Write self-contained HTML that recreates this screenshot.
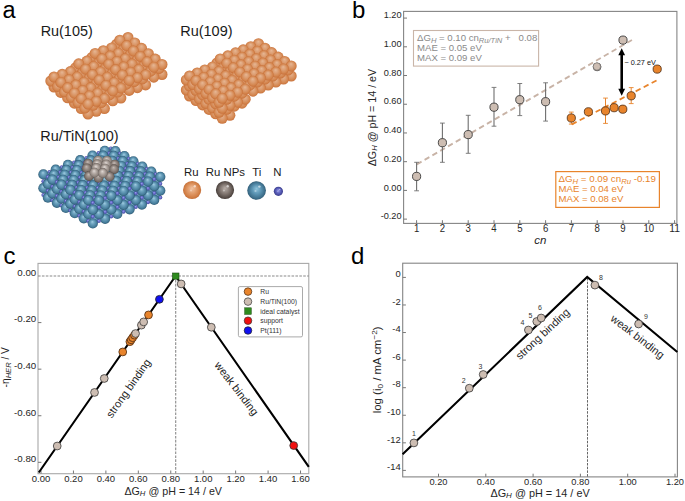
<!DOCTYPE html>
<html><head><meta charset="utf-8"><style>
html,body{margin:0;padding:0;background:#fff;}
svg{display:block;font-family:"Liberation Sans", sans-serif;}
</style></head><body>
<svg width="685" height="501" viewBox="0 0 685 501">
<defs>
<radialGradient id="gRu" cx="0.5" cy="0.5" r="0.5" fx="0.48" fy="0.3">
<stop offset="0" stop-color="#e6b794"/><stop offset="0.4" stop-color="#dd9f74"/><stop offset="0.8" stop-color="#d4864f"/><stop offset="1" stop-color="#c8713b"/>
</radialGradient>
<radialGradient id="gTi" cx="0.5" cy="0.5" r="0.5" fx="0.45" fy="0.32">
<stop offset="0" stop-color="#a2cde2"/><stop offset="0.35" stop-color="#6ea4c0"/><stop offset="0.8" stop-color="#467d9b"/><stop offset="1" stop-color="#2f5a74"/>
</radialGradient>
<radialGradient id="gN" cx="0.5" cy="0.5" r="0.5" fx="0.45" fy="0.35">
<stop offset="0" stop-color="#9ea4ee"/><stop offset="0.5" stop-color="#6a6fcc"/><stop offset="1" stop-color="#454aa0"/>
</radialGradient>
<radialGradient id="gNP" cx="0.5" cy="0.5" r="0.5" fx="0.45" fy="0.32">
<stop offset="0" stop-color="#e0d9d5"/><stop offset="0.4" stop-color="#b7ada7"/><stop offset="0.85" stop-color="#8b817b"/><stop offset="1" stop-color="#6c625d"/>
</radialGradient>
<radialGradient id="gNP2" cx="0.5" cy="0.5" r="0.5" fx="0.45" fy="0.32">
<stop offset="0" stop-color="#c4bab5"/><stop offset="0.4" stop-color="#9c918b"/><stop offset="0.85" stop-color="#746963"/><stop offset="1" stop-color="#564c47"/>
</radialGradient>
<radialGradient id="lRu" cx="0.5" cy="0.5" r="0.5" fx="0.5" fy="0.4">
<stop offset="0" stop-color="#f0c2a2"/><stop offset="0.5" stop-color="#e09a68"/><stop offset="0.9" stop-color="#cf7a40"/><stop offset="1" stop-color="#c06a35"/>
</radialGradient>
<radialGradient id="lNP" cx="0.5" cy="0.5" r="0.5" fx="0.5" fy="0.4">
<stop offset="0" stop-color="#b8aea8"/><stop offset="0.5" stop-color="#857a74"/><stop offset="0.9" stop-color="#554b46"/><stop offset="1" stop-color="#3e3531"/>
</radialGradient>
<radialGradient id="lTi" cx="0.5" cy="0.5" r="0.5" fx="0.5" fy="0.4">
<stop offset="0" stop-color="#8ec3dc"/><stop offset="0.5" stop-color="#5a93b2"/><stop offset="0.9" stop-color="#3b6c88"/><stop offset="1" stop-color="#2c5670"/>
</radialGradient>
<radialGradient id="lN" cx="0.5" cy="0.5" r="0.5" fx="0.5" fy="0.4">
<stop offset="0" stop-color="#9ca0e8"/><stop offset="0.5" stop-color="#5f63bf"/><stop offset="1" stop-color="#3a3d8c"/>
</radialGradient>
</defs><rect width="685" height="501" fill="#fff"/>
<text x="2.50" y="17.80" font-size="23.5" text-anchor="start" fill="#000" >a</text>
<text x="352.00" y="18.20" font-size="24" text-anchor="start" fill="#000" >b</text>
<text x="3.50" y="264.00" font-size="24" text-anchor="start" fill="#000" >c</text>
<text x="351.00" y="263.80" font-size="24" text-anchor="start" fill="#000" >d</text>
<circle cx="128.0" cy="47.5" r="5.5" fill="url(#gRu)"/>
<circle cx="124.8" cy="41.5" r="5.5" fill="url(#gRu)"/>
<circle cx="119.8" cy="50.2" r="5.5" fill="url(#gRu)"/>
<circle cx="128.0" cy="37.5" r="5.5" fill="url(#gRu)"/>
<circle cx="111.6" cy="57.9" r="5.5" fill="url(#gRu)"/>
<circle cx="116.6" cy="44.2" r="5.5" fill="url(#gRu)"/>
<circle cx="134.8" cy="52.9" r="5.5" fill="url(#gRu)"/>
<circle cx="108.4" cy="51.9" r="5.5" fill="url(#gRu)"/>
<circle cx="119.8" cy="40.2" r="5.5" fill="url(#gRu)"/>
<circle cx="103.3" cy="60.7" r="5.5" fill="url(#gRu)"/>
<circle cx="131.6" cy="46.9" r="5.5" fill="url(#gRu)"/>
<circle cx="111.6" cy="47.9" r="5.5" fill="url(#gRu)"/>
<circle cx="126.6" cy="55.6" r="5.5" fill="url(#gRu)"/>
<circle cx="100.1" cy="54.7" r="5.5" fill="url(#gRu)"/>
<circle cx="134.8" cy="42.9" r="5.5" fill="url(#gRu)"/>
<circle cx="118.4" cy="63.3" r="5.5" fill="url(#gRu)"/>
<circle cx="95.1" cy="63.4" r="5.5" fill="url(#gRu)"/>
<circle cx="123.4" cy="49.6" r="5.5" fill="url(#gRu)"/>
<circle cx="103.3" cy="50.7" r="5.5" fill="url(#gRu)"/>
<circle cx="141.6" cy="58.3" r="5.5" fill="url(#gRu)"/>
<circle cx="86.9" cy="71.1" r="5.5" fill="url(#gRu)"/>
<circle cx="115.2" cy="57.3" r="5.5" fill="url(#gRu)"/>
<circle cx="91.9" cy="57.4" r="5.5" fill="url(#gRu)"/>
<circle cx="126.6" cy="45.6" r="5.5" fill="url(#gRu)"/>
<circle cx="110.1" cy="66.1" r="5.5" fill="url(#gRu)"/>
<circle cx="138.4" cy="52.3" r="5.5" fill="url(#gRu)"/>
<circle cx="83.7" cy="65.1" r="5.5" fill="url(#gRu)"/>
<circle cx="118.4" cy="53.3" r="5.5" fill="url(#gRu)"/>
<circle cx="95.1" cy="53.4" r="5.5" fill="url(#gRu)"/>
<circle cx="133.4" cy="61.0" r="5.5" fill="url(#gRu)"/>
<circle cx="78.7" cy="73.8" r="5.5" fill="url(#gRu)"/>
<circle cx="106.9" cy="60.1" r="5.5" fill="url(#gRu)"/>
<circle cx="141.6" cy="48.3" r="5.5" fill="url(#gRu)"/>
<circle cx="86.9" cy="61.1" r="5.5" fill="url(#gRu)"/>
<circle cx="125.2" cy="68.7" r="5.5" fill="url(#gRu)"/>
<circle cx="70.4" cy="81.6" r="5.5" fill="url(#gRu)"/>
<circle cx="101.9" cy="68.8" r="5.5" fill="url(#gRu)"/>
<circle cx="130.2" cy="55.0" r="5.5" fill="url(#gRu)"/>
<circle cx="75.5" cy="67.8" r="5.5" fill="url(#gRu)"/>
<circle cx="110.1" cy="56.1" r="5.5" fill="url(#gRu)"/>
<circle cx="148.4" cy="63.7" r="5.5" fill="url(#gRu)"/>
<circle cx="93.7" cy="76.5" r="5.5" fill="url(#gRu)"/>
<circle cx="122.0" cy="62.7" r="5.5" fill="url(#gRu)"/>
<circle cx="67.2" cy="75.6" r="5.5" fill="url(#gRu)"/>
<circle cx="98.7" cy="62.8" r="5.5" fill="url(#gRu)"/>
<circle cx="133.4" cy="51.0" r="5.5" fill="url(#gRu)"/>
<circle cx="78.7" cy="63.8" r="5.5" fill="url(#gRu)"/>
<circle cx="116.9" cy="71.5" r="5.5" fill="url(#gRu)"/>
<circle cx="62.2" cy="84.3" r="5.5" fill="url(#gRu)"/>
<circle cx="145.2" cy="57.7" r="5.5" fill="url(#gRu)"/>
<circle cx="90.5" cy="70.5" r="5.5" fill="url(#gRu)"/>
<circle cx="125.2" cy="58.7" r="5.5" fill="url(#gRu)"/>
<circle cx="70.4" cy="71.6" r="5.5" fill="url(#gRu)"/>
<circle cx="101.9" cy="58.8" r="5.5" fill="url(#gRu)"/>
<circle cx="140.2" cy="66.4" r="5.5" fill="url(#gRu)"/>
<circle cx="85.5" cy="79.2" r="5.5" fill="url(#gRu)"/>
<circle cx="113.7" cy="65.5" r="5.5" fill="url(#gRu)"/>
<circle cx="59.0" cy="78.3" r="5.5" fill="url(#gRu)"/>
<circle cx="148.4" cy="53.7" r="5.5" fill="url(#gRu)"/>
<circle cx="93.7" cy="66.5" r="5.5" fill="url(#gRu)"/>
<circle cx="132.0" cy="74.1" r="5.5" fill="url(#gRu)"/>
<circle cx="77.2" cy="87.0" r="5.5" fill="url(#gRu)"/>
<circle cx="108.7" cy="74.2" r="5.5" fill="url(#gRu)"/>
<circle cx="54.0" cy="87.0" r="5.5" fill="url(#gRu)"/>
<circle cx="137.0" cy="60.4" r="5.5" fill="url(#gRu)"/>
<circle cx="82.3" cy="73.2" r="5.5" fill="url(#gRu)"/>
<circle cx="116.9" cy="61.5" r="5.5" fill="url(#gRu)"/>
<circle cx="155.2" cy="69.1" r="5.5" fill="url(#gRu)"/>
<circle cx="62.2" cy="74.3" r="5.5" fill="url(#gRu)"/>
<circle cx="100.5" cy="81.9" r="5.5" fill="url(#gRu)"/>
<circle cx="128.8" cy="68.1" r="5.5" fill="url(#gRu)"/>
<circle cx="74.0" cy="81.0" r="5.5" fill="url(#gRu)"/>
<circle cx="105.5" cy="68.2" r="5.5" fill="url(#gRu)"/>
<circle cx="50.8" cy="81.0" r="5.5" fill="url(#gRu)"/>
<circle cx="140.2" cy="56.4" r="5.5" fill="url(#gRu)"/>
<circle cx="85.5" cy="69.2" r="5.5" fill="url(#gRu)"/>
<circle cx="123.7" cy="76.9" r="5.5" fill="url(#gRu)"/>
<circle cx="69.0" cy="89.7" r="5.5" fill="url(#gRu)"/>
<circle cx="152.0" cy="63.1" r="5.5" fill="url(#gRu)"/>
<circle cx="97.3" cy="75.9" r="5.5" fill="url(#gRu)"/>
<circle cx="132.0" cy="64.1" r="5.5" fill="url(#gRu)"/>
<circle cx="77.2" cy="77.0" r="5.5" fill="url(#gRu)"/>
<circle cx="108.7" cy="64.2" r="5.5" fill="url(#gRu)"/>
<circle cx="147.0" cy="71.8" r="5.5" fill="url(#gRu)"/>
<circle cx="54.0" cy="77.0" r="5.5" fill="url(#gRu)"/>
<circle cx="92.3" cy="84.6" r="5.5" fill="url(#gRu)"/>
<circle cx="120.5" cy="70.9" r="5.5" fill="url(#gRu)"/>
<circle cx="65.8" cy="83.7" r="5.5" fill="url(#gRu)"/>
<circle cx="155.2" cy="59.1" r="5.5" fill="url(#gRu)"/>
<circle cx="100.5" cy="71.9" r="5.5" fill="url(#gRu)"/>
<circle cx="138.8" cy="79.5" r="5.5" fill="url(#gRu)"/>
<circle cx="84.0" cy="92.4" r="5.5" fill="url(#gRu)"/>
<circle cx="115.5" cy="79.6" r="5.5" fill="url(#gRu)"/>
<circle cx="60.8" cy="92.4" r="5.5" fill="url(#gRu)"/>
<circle cx="143.8" cy="65.8" r="5.5" fill="url(#gRu)"/>
<circle cx="89.1" cy="78.6" r="5.5" fill="url(#gRu)"/>
<circle cx="123.7" cy="66.9" r="5.5" fill="url(#gRu)"/>
<circle cx="162.0" cy="74.5" r="5.5" fill="url(#gRu)"/>
<circle cx="69.0" cy="79.7" r="5.5" fill="url(#gRu)"/>
<circle cx="107.3" cy="87.3" r="5.5" fill="url(#gRu)"/>
<circle cx="135.6" cy="73.5" r="5.5" fill="url(#gRu)"/>
<circle cx="80.8" cy="86.4" r="5.5" fill="url(#gRu)"/>
<circle cx="112.3" cy="73.6" r="5.5" fill="url(#gRu)"/>
<circle cx="57.6" cy="86.4" r="5.5" fill="url(#gRu)"/>
<circle cx="147.0" cy="61.8" r="5.5" fill="url(#gRu)"/>
<circle cx="92.3" cy="74.6" r="5.5" fill="url(#gRu)"/>
<circle cx="130.5" cy="82.3" r="5.5" fill="url(#gRu)"/>
<circle cx="75.8" cy="95.1" r="5.5" fill="url(#gRu)"/>
<circle cx="158.8" cy="68.5" r="5.5" fill="url(#gRu)"/>
<circle cx="104.1" cy="81.3" r="5.5" fill="url(#gRu)"/>
<circle cx="138.8" cy="69.5" r="5.5" fill="url(#gRu)"/>
<circle cx="84.0" cy="82.4" r="5.5" fill="url(#gRu)"/>
<circle cx="115.5" cy="69.6" r="5.5" fill="url(#gRu)"/>
<circle cx="153.8" cy="77.2" r="5.5" fill="url(#gRu)"/>
<circle cx="60.8" cy="82.4" r="5.5" fill="url(#gRu)"/>
<circle cx="99.1" cy="90.0" r="5.5" fill="url(#gRu)"/>
<circle cx="127.3" cy="76.3" r="5.5" fill="url(#gRu)"/>
<circle cx="72.6" cy="89.1" r="5.5" fill="url(#gRu)"/>
<circle cx="162.0" cy="64.5" r="5.5" fill="url(#gRu)"/>
<circle cx="107.3" cy="77.3" r="5.5" fill="url(#gRu)"/>
<circle cx="145.6" cy="84.9" r="5.5" fill="url(#gRu)"/>
<circle cx="90.8" cy="97.8" r="5.5" fill="url(#gRu)"/>
<circle cx="122.3" cy="85.0" r="5.5" fill="url(#gRu)"/>
<circle cx="67.6" cy="97.8" r="5.5" fill="url(#gRu)"/>
<circle cx="150.6" cy="71.2" r="5.5" fill="url(#gRu)"/>
<circle cx="95.9" cy="84.0" r="5.5" fill="url(#gRu)"/>
<circle cx="130.5" cy="72.3" r="5.5" fill="url(#gRu)"/>
<circle cx="75.8" cy="85.1" r="5.5" fill="url(#gRu)"/>
<circle cx="114.1" cy="92.7" r="5.5" fill="url(#gRu)"/>
<circle cx="142.4" cy="78.9" r="5.5" fill="url(#gRu)"/>
<circle cx="87.6" cy="91.8" r="5.5" fill="url(#gRu)"/>
<circle cx="119.1" cy="79.0" r="5.5" fill="url(#gRu)"/>
<circle cx="64.4" cy="91.8" r="5.5" fill="url(#gRu)"/>
<circle cx="153.8" cy="67.2" r="5.5" fill="url(#gRu)"/>
<circle cx="99.1" cy="80.0" r="5.5" fill="url(#gRu)"/>
<circle cx="137.3" cy="87.7" r="5.5" fill="url(#gRu)"/>
<circle cx="82.6" cy="100.5" r="5.5" fill="url(#gRu)"/>
<circle cx="110.9" cy="86.7" r="5.5" fill="url(#gRu)"/>
<circle cx="145.6" cy="74.9" r="5.5" fill="url(#gRu)"/>
<circle cx="90.8" cy="87.8" r="5.5" fill="url(#gRu)"/>
<circle cx="122.3" cy="75.0" r="5.5" fill="url(#gRu)"/>
<circle cx="67.6" cy="87.8" r="5.5" fill="url(#gRu)"/>
<circle cx="105.9" cy="95.4" r="5.5" fill="url(#gRu)"/>
<circle cx="134.1" cy="81.7" r="5.5" fill="url(#gRu)"/>
<circle cx="79.4" cy="94.5" r="5.5" fill="url(#gRu)"/>
<circle cx="114.1" cy="82.7" r="5.5" fill="url(#gRu)"/>
<circle cx="97.6" cy="103.2" r="5.5" fill="url(#gRu)"/>
<circle cx="129.1" cy="90.4" r="5.5" fill="url(#gRu)"/>
<circle cx="74.4" cy="103.2" r="5.5" fill="url(#gRu)"/>
<circle cx="102.7" cy="89.4" r="5.5" fill="url(#gRu)"/>
<circle cx="137.3" cy="77.7" r="5.5" fill="url(#gRu)"/>
<circle cx="82.6" cy="90.5" r="5.5" fill="url(#gRu)"/>
<circle cx="120.9" cy="98.1" r="5.5" fill="url(#gRu)"/>
<circle cx="94.4" cy="97.2" r="5.5" fill="url(#gRu)"/>
<circle cx="125.9" cy="84.4" r="5.5" fill="url(#gRu)"/>
<circle cx="71.2" cy="97.2" r="5.5" fill="url(#gRu)"/>
<circle cx="105.9" cy="85.4" r="5.5" fill="url(#gRu)"/>
<circle cx="89.4" cy="105.9" r="5.5" fill="url(#gRu)"/>
<circle cx="117.7" cy="92.1" r="5.5" fill="url(#gRu)"/>
<circle cx="97.6" cy="93.2" r="5.5" fill="url(#gRu)"/>
<circle cx="129.1" cy="80.4" r="5.5" fill="url(#gRu)"/>
<circle cx="74.4" cy="93.2" r="5.5" fill="url(#gRu)"/>
<circle cx="112.7" cy="100.8" r="5.5" fill="url(#gRu)"/>
<circle cx="86.2" cy="99.9" r="5.5" fill="url(#gRu)"/>
<circle cx="120.9" cy="88.1" r="5.5" fill="url(#gRu)"/>
<circle cx="104.4" cy="108.6" r="5.5" fill="url(#gRu)"/>
<circle cx="81.2" cy="108.6" r="5.5" fill="url(#gRu)"/>
<circle cx="109.5" cy="94.8" r="5.5" fill="url(#gRu)"/>
<circle cx="89.4" cy="95.9" r="5.5" fill="url(#gRu)"/>
<circle cx="101.2" cy="102.6" r="5.5" fill="url(#gRu)"/>
<circle cx="78.0" cy="102.6" r="5.5" fill="url(#gRu)"/>
<circle cx="112.7" cy="90.8" r="5.5" fill="url(#gRu)"/>
<circle cx="96.2" cy="111.3" r="5.5" fill="url(#gRu)"/>
<circle cx="104.4" cy="98.6" r="5.5" fill="url(#gRu)"/>
<circle cx="81.2" cy="98.6" r="5.5" fill="url(#gRu)"/>
<circle cx="93.0" cy="105.3" r="5.5" fill="url(#gRu)"/>
<circle cx="88.0" cy="114.0" r="5.5" fill="url(#gRu)"/>
<circle cx="96.2" cy="101.3" r="5.5" fill="url(#gRu)"/>
<circle cx="84.8" cy="108.0" r="5.5" fill="url(#gRu)"/>
<circle cx="88.0" cy="104.0" r="5.5" fill="url(#gRu)"/>
<circle cx="258.5" cy="53.7" r="5.5" fill="url(#gRu)"/>
<circle cx="255.3" cy="47.7" r="5.5" fill="url(#gRu)"/>
<circle cx="250.8" cy="56.7" r="5.5" fill="url(#gRu)"/>
<circle cx="258.5" cy="43.7" r="5.5" fill="url(#gRu)"/>
<circle cx="247.6" cy="50.7" r="5.5" fill="url(#gRu)"/>
<circle cx="265.0" cy="58.2" r="5.5" fill="url(#gRu)"/>
<circle cx="243.2" cy="59.8" r="5.5" fill="url(#gRu)"/>
<circle cx="250.8" cy="46.7" r="5.5" fill="url(#gRu)"/>
<circle cx="261.8" cy="52.2" r="5.5" fill="url(#gRu)"/>
<circle cx="240.0" cy="53.8" r="5.5" fill="url(#gRu)"/>
<circle cx="257.4" cy="61.2" r="5.5" fill="url(#gRu)"/>
<circle cx="235.5" cy="62.8" r="5.5" fill="url(#gRu)"/>
<circle cx="265.0" cy="48.2" r="5.5" fill="url(#gRu)"/>
<circle cx="243.2" cy="49.8" r="5.5" fill="url(#gRu)"/>
<circle cx="254.2" cy="55.2" r="5.5" fill="url(#gRu)"/>
<circle cx="232.3" cy="56.8" r="5.5" fill="url(#gRu)"/>
<circle cx="271.6" cy="62.6" r="5.5" fill="url(#gRu)"/>
<circle cx="249.7" cy="64.2" r="5.5" fill="url(#gRu)"/>
<circle cx="227.8" cy="65.8" r="5.5" fill="url(#gRu)"/>
<circle cx="257.4" cy="51.2" r="5.5" fill="url(#gRu)"/>
<circle cx="235.5" cy="52.8" r="5.5" fill="url(#gRu)"/>
<circle cx="268.4" cy="56.6" r="5.5" fill="url(#gRu)"/>
<circle cx="246.5" cy="58.2" r="5.5" fill="url(#gRu)"/>
<circle cx="224.6" cy="59.8" r="5.5" fill="url(#gRu)"/>
<circle cx="263.9" cy="65.7" r="5.5" fill="url(#gRu)"/>
<circle cx="209.3" cy="80.9" r="5.5" fill="url(#gRu)"/>
<circle cx="242.0" cy="67.3" r="5.5" fill="url(#gRu)"/>
<circle cx="271.6" cy="52.6" r="5.5" fill="url(#gRu)"/>
<circle cx="220.2" cy="68.9" r="5.5" fill="url(#gRu)"/>
<circle cx="249.7" cy="54.2" r="5.5" fill="url(#gRu)"/>
<circle cx="227.8" cy="55.8" r="5.5" fill="url(#gRu)"/>
<circle cx="260.7" cy="59.7" r="5.5" fill="url(#gRu)"/>
<circle cx="212.5" cy="76.9" r="5.5" fill="url(#gRu)"/>
<circle cx="238.8" cy="61.3" r="5.5" fill="url(#gRu)"/>
<circle cx="278.1" cy="67.1" r="5.5" fill="url(#gRu)"/>
<circle cx="217.0" cy="62.9" r="5.5" fill="url(#gRu)"/>
<circle cx="256.2" cy="68.7" r="5.5" fill="url(#gRu)"/>
<circle cx="201.6" cy="83.9" r="5.5" fill="url(#gRu)"/>
<circle cx="234.4" cy="70.3" r="5.5" fill="url(#gRu)"/>
<circle cx="263.9" cy="55.7" r="5.5" fill="url(#gRu)"/>
<circle cx="209.3" cy="70.9" r="5.5" fill="url(#gRu)"/>
<circle cx="197.2" cy="93.0" r="5.5" fill="url(#gRu)"/>
<circle cx="242.0" cy="57.3" r="5.5" fill="url(#gRu)"/>
<circle cx="274.9" cy="61.1" r="5.5" fill="url(#gRu)"/>
<circle cx="220.2" cy="58.9" r="5.5" fill="url(#gRu)"/>
<circle cx="253.0" cy="62.7" r="5.5" fill="url(#gRu)"/>
<circle cx="204.8" cy="79.9" r="5.5" fill="url(#gRu)"/>
<circle cx="231.2" cy="64.3" r="5.5" fill="url(#gRu)"/>
<circle cx="270.5" cy="70.1" r="5.5" fill="url(#gRu)"/>
<circle cx="215.8" cy="85.4" r="5.5" fill="url(#gRu)"/>
<circle cx="212.5" cy="66.9" r="5.5" fill="url(#gRu)"/>
<circle cx="248.6" cy="71.7" r="5.5" fill="url(#gRu)"/>
<circle cx="194.0" cy="87.0" r="5.5" fill="url(#gRu)"/>
<circle cx="278.1" cy="57.1" r="5.5" fill="url(#gRu)"/>
<circle cx="226.7" cy="73.3" r="5.5" fill="url(#gRu)"/>
<circle cx="256.2" cy="58.7" r="5.5" fill="url(#gRu)"/>
<circle cx="201.6" cy="73.9" r="5.5" fill="url(#gRu)"/>
<circle cx="189.5" cy="96.0" r="5.5" fill="url(#gRu)"/>
<circle cx="234.4" cy="60.3" r="5.5" fill="url(#gRu)"/>
<circle cx="267.3" cy="64.1" r="5.5" fill="url(#gRu)"/>
<circle cx="219.0" cy="81.4" r="5.5" fill="url(#gRu)"/>
<circle cx="245.4" cy="65.7" r="5.5" fill="url(#gRu)"/>
<circle cx="284.7" cy="71.5" r="5.5" fill="url(#gRu)"/>
<circle cx="197.2" cy="83.0" r="5.5" fill="url(#gRu)"/>
<circle cx="223.5" cy="67.3" r="5.5" fill="url(#gRu)"/>
<circle cx="262.8" cy="73.1" r="5.5" fill="url(#gRu)"/>
<circle cx="208.2" cy="88.4" r="5.5" fill="url(#gRu)"/>
<circle cx="204.8" cy="69.9" r="5.5" fill="url(#gRu)"/>
<circle cx="240.9" cy="74.8" r="5.5" fill="url(#gRu)"/>
<circle cx="186.3" cy="90.0" r="5.5" fill="url(#gRu)"/>
<circle cx="270.5" cy="60.1" r="5.5" fill="url(#gRu)"/>
<circle cx="215.8" cy="75.4" r="5.5" fill="url(#gRu)"/>
<circle cx="203.7" cy="97.4" r="5.5" fill="url(#gRu)"/>
<circle cx="248.6" cy="61.7" r="5.5" fill="url(#gRu)"/>
<circle cx="281.5" cy="65.5" r="5.5" fill="url(#gRu)"/>
<circle cx="194.0" cy="77.0" r="5.5" fill="url(#gRu)"/>
<circle cx="226.7" cy="63.3" r="5.5" fill="url(#gRu)"/>
<circle cx="259.6" cy="67.1" r="5.5" fill="url(#gRu)"/>
<circle cx="211.4" cy="84.4" r="5.5" fill="url(#gRu)"/>
<circle cx="237.7" cy="68.8" r="5.5" fill="url(#gRu)"/>
<circle cx="277.0" cy="74.6" r="5.5" fill="url(#gRu)"/>
<circle cx="189.5" cy="86.0" r="5.5" fill="url(#gRu)"/>
<circle cx="222.4" cy="89.8" r="5.5" fill="url(#gRu)"/>
<circle cx="219.0" cy="71.4" r="5.5" fill="url(#gRu)"/>
<circle cx="255.1" cy="76.2" r="5.5" fill="url(#gRu)"/>
<circle cx="200.5" cy="91.4" r="5.5" fill="url(#gRu)"/>
<circle cx="284.7" cy="61.5" r="5.5" fill="url(#gRu)"/>
<circle cx="197.2" cy="73.0" r="5.5" fill="url(#gRu)"/>
<circle cx="233.2" cy="77.8" r="5.5" fill="url(#gRu)"/>
<circle cx="262.8" cy="63.1" r="5.5" fill="url(#gRu)"/>
<circle cx="208.2" cy="78.4" r="5.5" fill="url(#gRu)"/>
<circle cx="196.0" cy="100.5" r="5.5" fill="url(#gRu)"/>
<circle cx="240.9" cy="64.8" r="5.5" fill="url(#gRu)"/>
<circle cx="273.8" cy="68.6" r="5.5" fill="url(#gRu)"/>
<circle cx="186.3" cy="80.0" r="5.5" fill="url(#gRu)"/>
<circle cx="225.6" cy="85.8" r="5.5" fill="url(#gRu)"/>
<circle cx="251.9" cy="70.2" r="5.5" fill="url(#gRu)"/>
<circle cx="291.2" cy="76.0" r="5.5" fill="url(#gRu)"/>
<circle cx="203.7" cy="87.4" r="5.5" fill="url(#gRu)"/>
<circle cx="230.0" cy="71.8" r="5.5" fill="url(#gRu)"/>
<circle cx="269.3" cy="77.6" r="5.5" fill="url(#gRu)"/>
<circle cx="214.7" cy="92.9" r="5.5" fill="url(#gRu)"/>
<circle cx="211.4" cy="74.4" r="5.5" fill="url(#gRu)"/>
<circle cx="247.5" cy="79.2" r="5.5" fill="url(#gRu)"/>
<circle cx="192.8" cy="94.5" r="5.5" fill="url(#gRu)"/>
<circle cx="277.0" cy="64.6" r="5.5" fill="url(#gRu)"/>
<circle cx="189.5" cy="76.0" r="5.5" fill="url(#gRu)"/>
<circle cx="222.4" cy="79.8" r="5.5" fill="url(#gRu)"/>
<circle cx="210.2" cy="101.9" r="5.5" fill="url(#gRu)"/>
<circle cx="255.1" cy="66.2" r="5.5" fill="url(#gRu)"/>
<circle cx="288.0" cy="70.0" r="5.5" fill="url(#gRu)"/>
<circle cx="200.5" cy="81.4" r="5.5" fill="url(#gRu)"/>
<circle cx="233.2" cy="67.8" r="5.5" fill="url(#gRu)"/>
<circle cx="266.1" cy="71.6" r="5.5" fill="url(#gRu)"/>
<circle cx="217.9" cy="88.9" r="5.5" fill="url(#gRu)"/>
<circle cx="244.3" cy="73.2" r="5.5" fill="url(#gRu)"/>
<circle cx="283.5" cy="79.0" r="5.5" fill="url(#gRu)"/>
<circle cx="196.0" cy="90.5" r="5.5" fill="url(#gRu)"/>
<circle cx="228.9" cy="94.3" r="5.5" fill="url(#gRu)"/>
<circle cx="225.6" cy="75.8" r="5.5" fill="url(#gRu)"/>
<circle cx="261.7" cy="80.6" r="5.5" fill="url(#gRu)"/>
<circle cx="207.0" cy="95.9" r="5.5" fill="url(#gRu)"/>
<circle cx="291.2" cy="66.0" r="5.5" fill="url(#gRu)"/>
<circle cx="203.7" cy="77.4" r="5.5" fill="url(#gRu)"/>
<circle cx="239.8" cy="82.2" r="5.5" fill="url(#gRu)"/>
<circle cx="269.3" cy="67.6" r="5.5" fill="url(#gRu)"/>
<circle cx="214.7" cy="82.9" r="5.5" fill="url(#gRu)"/>
<circle cx="202.6" cy="104.9" r="5.5" fill="url(#gRu)"/>
<circle cx="247.5" cy="69.2" r="5.5" fill="url(#gRu)"/>
<circle cx="280.3" cy="73.0" r="5.5" fill="url(#gRu)"/>
<circle cx="192.8" cy="84.5" r="5.5" fill="url(#gRu)"/>
<circle cx="232.1" cy="90.3" r="5.5" fill="url(#gRu)"/>
<circle cx="258.5" cy="74.6" r="5.5" fill="url(#gRu)"/>
<circle cx="210.2" cy="91.9" r="5.5" fill="url(#gRu)"/>
<circle cx="236.6" cy="76.2" r="5.5" fill="url(#gRu)"/>
<circle cx="275.9" cy="82.1" r="5.5" fill="url(#gRu)"/>
<circle cx="221.3" cy="97.3" r="5.5" fill="url(#gRu)"/>
<circle cx="217.9" cy="78.9" r="5.5" fill="url(#gRu)"/>
<circle cx="254.0" cy="83.7" r="5.5" fill="url(#gRu)"/>
<circle cx="199.4" cy="98.9" r="5.5" fill="url(#gRu)"/>
<circle cx="283.5" cy="69.0" r="5.5" fill="url(#gRu)"/>
<circle cx="196.0" cy="80.5" r="5.5" fill="url(#gRu)"/>
<circle cx="228.9" cy="84.3" r="5.5" fill="url(#gRu)"/>
<circle cx="216.8" cy="106.3" r="5.5" fill="url(#gRu)"/>
<circle cx="261.7" cy="70.6" r="5.5" fill="url(#gRu)"/>
<circle cx="207.0" cy="85.9" r="5.5" fill="url(#gRu)"/>
<circle cx="239.8" cy="72.2" r="5.5" fill="url(#gRu)"/>
<circle cx="272.7" cy="76.1" r="5.5" fill="url(#gRu)"/>
<circle cx="224.5" cy="93.3" r="5.5" fill="url(#gRu)"/>
<circle cx="250.8" cy="77.7" r="5.5" fill="url(#gRu)"/>
<circle cx="202.6" cy="94.9" r="5.5" fill="url(#gRu)"/>
<circle cx="235.5" cy="98.7" r="5.5" fill="url(#gRu)"/>
<circle cx="232.1" cy="80.3" r="5.5" fill="url(#gRu)"/>
<circle cx="268.2" cy="85.1" r="5.5" fill="url(#gRu)"/>
<circle cx="213.6" cy="100.3" r="5.5" fill="url(#gRu)"/>
<circle cx="210.2" cy="81.9" r="5.5" fill="url(#gRu)"/>
<circle cx="246.3" cy="86.7" r="5.5" fill="url(#gRu)"/>
<circle cx="275.9" cy="72.1" r="5.5" fill="url(#gRu)"/>
<circle cx="221.3" cy="87.3" r="5.5" fill="url(#gRu)"/>
<circle cx="209.1" cy="109.4" r="5.5" fill="url(#gRu)"/>
<circle cx="254.0" cy="73.7" r="5.5" fill="url(#gRu)"/>
<circle cx="199.4" cy="88.9" r="5.5" fill="url(#gRu)"/>
<circle cx="238.7" cy="94.7" r="5.5" fill="url(#gRu)"/>
<circle cx="265.0" cy="79.1" r="5.5" fill="url(#gRu)"/>
<circle cx="216.8" cy="96.3" r="5.5" fill="url(#gRu)"/>
<circle cx="243.1" cy="80.7" r="5.5" fill="url(#gRu)"/>
<circle cx="227.8" cy="101.8" r="5.5" fill="url(#gRu)"/>
<circle cx="224.5" cy="83.3" r="5.5" fill="url(#gRu)"/>
<circle cx="260.5" cy="88.1" r="5.5" fill="url(#gRu)"/>
<circle cx="205.9" cy="103.4" r="5.5" fill="url(#gRu)"/>
<circle cx="202.6" cy="84.9" r="5.5" fill="url(#gRu)"/>
<circle cx="235.5" cy="88.7" r="5.5" fill="url(#gRu)"/>
<circle cx="223.3" cy="110.8" r="5.5" fill="url(#gRu)"/>
<circle cx="268.2" cy="75.1" r="5.5" fill="url(#gRu)"/>
<circle cx="213.6" cy="90.3" r="5.5" fill="url(#gRu)"/>
<circle cx="246.3" cy="76.7" r="5.5" fill="url(#gRu)"/>
<circle cx="231.0" cy="97.8" r="5.5" fill="url(#gRu)"/>
<circle cx="257.3" cy="82.1" r="5.5" fill="url(#gRu)"/>
<circle cx="209.1" cy="99.4" r="5.5" fill="url(#gRu)"/>
<circle cx="242.0" cy="103.2" r="5.5" fill="url(#gRu)"/>
<circle cx="238.7" cy="84.7" r="5.5" fill="url(#gRu)"/>
<circle cx="220.1" cy="104.8" r="5.5" fill="url(#gRu)"/>
<circle cx="216.8" cy="86.3" r="5.5" fill="url(#gRu)"/>
<circle cx="252.9" cy="91.2" r="5.5" fill="url(#gRu)"/>
<circle cx="227.8" cy="91.8" r="5.5" fill="url(#gRu)"/>
<circle cx="215.7" cy="113.8" r="5.5" fill="url(#gRu)"/>
<circle cx="260.5" cy="78.1" r="5.5" fill="url(#gRu)"/>
<circle cx="205.9" cy="93.4" r="5.5" fill="url(#gRu)"/>
<circle cx="245.2" cy="99.2" r="5.5" fill="url(#gRu)"/>
<circle cx="223.3" cy="100.8" r="5.5" fill="url(#gRu)"/>
<circle cx="249.7" cy="85.2" r="5.5" fill="url(#gRu)"/>
<circle cx="234.3" cy="106.2" r="5.5" fill="url(#gRu)"/>
<circle cx="231.0" cy="87.8" r="5.5" fill="url(#gRu)"/>
<circle cx="212.5" cy="107.8" r="5.5" fill="url(#gRu)"/>
<circle cx="209.1" cy="89.4" r="5.5" fill="url(#gRu)"/>
<circle cx="242.0" cy="93.2" r="5.5" fill="url(#gRu)"/>
<circle cx="229.9" cy="115.3" r="5.5" fill="url(#gRu)"/>
<circle cx="220.1" cy="94.8" r="5.5" fill="url(#gRu)"/>
<circle cx="252.9" cy="81.2" r="5.5" fill="url(#gRu)"/>
<circle cx="237.5" cy="102.2" r="5.5" fill="url(#gRu)"/>
<circle cx="215.7" cy="103.8" r="5.5" fill="url(#gRu)"/>
<circle cx="245.2" cy="89.2" r="5.5" fill="url(#gRu)"/>
<circle cx="226.7" cy="109.3" r="5.5" fill="url(#gRu)"/>
<circle cx="223.3" cy="90.8" r="5.5" fill="url(#gRu)"/>
<circle cx="234.3" cy="96.2" r="5.5" fill="url(#gRu)"/>
<circle cx="222.2" cy="118.3" r="5.5" fill="url(#gRu)"/>
<circle cx="212.5" cy="97.8" r="5.5" fill="url(#gRu)"/>
<circle cx="229.9" cy="105.3" r="5.5" fill="url(#gRu)"/>
<circle cx="237.5" cy="92.2" r="5.5" fill="url(#gRu)"/>
<circle cx="219.0" cy="112.3" r="5.5" fill="url(#gRu)"/>
<circle cx="215.7" cy="93.8" r="5.5" fill="url(#gRu)"/>
<circle cx="226.7" cy="99.3" r="5.5" fill="url(#gRu)"/>
<circle cx="222.2" cy="108.3" r="5.5" fill="url(#gRu)"/>
<circle cx="229.9" cy="95.3" r="5.5" fill="url(#gRu)"/>
<circle cx="219.0" cy="102.3" r="5.5" fill="url(#gRu)"/>
<circle cx="222.2" cy="98.3" r="5.5" fill="url(#gRu)"/>
<circle cx="110.9" cy="155.3" r="5.1" fill="url(#gTi)"/>
<circle cx="110.9" cy="148.4" r="2.0" fill="url(#gN)"/>
<circle cx="104.8" cy="157.7" r="2.0" fill="url(#gN)"/>
<circle cx="115.4" cy="157.9" r="2.0" fill="url(#gN)"/>
<circle cx="104.8" cy="150.8" r="5.1" fill="url(#gTi)"/>
<circle cx="98.6" cy="160.0" r="5.1" fill="url(#gTi)"/>
<circle cx="115.4" cy="151.0" r="5.1" fill="url(#gTi)"/>
<circle cx="109.3" cy="160.2" r="5.1" fill="url(#gTi)"/>
<circle cx="119.9" cy="160.5" r="5.1" fill="url(#gTi)"/>
<circle cx="98.6" cy="153.1" r="2.0" fill="url(#gN)"/>
<circle cx="92.5" cy="162.4" r="2.0" fill="url(#gN)"/>
<circle cx="109.3" cy="153.3" r="2.0" fill="url(#gN)"/>
<circle cx="103.1" cy="162.6" r="2.0" fill="url(#gN)"/>
<circle cx="119.9" cy="153.6" r="2.0" fill="url(#gN)"/>
<circle cx="113.7" cy="162.8" r="2.0" fill="url(#gN)"/>
<circle cx="124.4" cy="163.0" r="2.0" fill="url(#gN)"/>
<circle cx="92.5" cy="155.5" r="5.1" fill="url(#gTi)"/>
<circle cx="86.4" cy="164.8" r="5.1" fill="url(#gTi)"/>
<circle cx="103.1" cy="155.7" r="5.1" fill="url(#gTi)"/>
<circle cx="97.0" cy="165.0" r="5.1" fill="url(#gTi)"/>
<circle cx="113.7" cy="155.9" r="5.1" fill="url(#gTi)"/>
<circle cx="107.6" cy="165.2" r="5.1" fill="url(#gTi)"/>
<circle cx="124.4" cy="156.1" r="5.1" fill="url(#gTi)"/>
<circle cx="118.2" cy="165.4" r="5.1" fill="url(#gTi)"/>
<circle cx="86.4" cy="157.9" r="2.0" fill="url(#gN)"/>
<circle cx="128.9" cy="165.6" r="5.1" fill="url(#gTi)"/>
<circle cx="80.2" cy="167.1" r="2.0" fill="url(#gN)"/>
<circle cx="97.0" cy="158.1" r="2.0" fill="url(#gN)"/>
<circle cx="90.8" cy="167.3" r="2.0" fill="url(#gN)"/>
<circle cx="107.6" cy="158.3" r="2.0" fill="url(#gN)"/>
<circle cx="101.5" cy="167.6" r="2.0" fill="url(#gN)"/>
<circle cx="118.2" cy="158.5" r="2.0" fill="url(#gN)"/>
<circle cx="112.1" cy="167.8" r="2.0" fill="url(#gN)"/>
<circle cx="128.9" cy="158.7" r="2.0" fill="url(#gN)"/>
<circle cx="80.2" cy="160.2" r="5.1" fill="url(#gTi)"/>
<circle cx="122.7" cy="168.0" r="2.0" fill="url(#gN)"/>
<circle cx="74.1" cy="169.5" r="5.1" fill="url(#gTi)"/>
<circle cx="90.8" cy="160.4" r="5.1" fill="url(#gTi)"/>
<circle cx="133.4" cy="168.2" r="2.0" fill="url(#gN)"/>
<circle cx="84.7" cy="169.7" r="5.1" fill="url(#gTi)"/>
<circle cx="101.5" cy="160.7" r="5.1" fill="url(#gTi)"/>
<circle cx="95.3" cy="169.9" r="5.1" fill="url(#gTi)"/>
<circle cx="112.1" cy="160.9" r="5.1" fill="url(#gTi)"/>
<circle cx="106.0" cy="170.1" r="5.1" fill="url(#gTi)"/>
<circle cx="122.7" cy="161.1" r="5.1" fill="url(#gTi)"/>
<circle cx="74.1" cy="162.6" r="2.0" fill="url(#gN)"/>
<circle cx="116.6" cy="170.4" r="5.1" fill="url(#gTi)"/>
<circle cx="133.4" cy="161.3" r="5.1" fill="url(#gTi)"/>
<circle cx="67.9" cy="171.8" r="2.0" fill="url(#gN)"/>
<circle cx="84.7" cy="162.8" r="2.0" fill="url(#gN)"/>
<circle cx="127.2" cy="170.6" r="5.1" fill="url(#gTi)"/>
<circle cx="78.6" cy="172.1" r="2.0" fill="url(#gN)"/>
<circle cx="95.3" cy="163.0" r="2.0" fill="url(#gN)"/>
<circle cx="137.8" cy="170.8" r="5.1" fill="url(#gTi)"/>
<circle cx="89.2" cy="172.3" r="2.0" fill="url(#gN)"/>
<circle cx="106.0" cy="163.2" r="2.0" fill="url(#gN)"/>
<circle cx="99.8" cy="172.5" r="2.0" fill="url(#gN)"/>
<circle cx="116.6" cy="163.5" r="2.0" fill="url(#gN)"/>
<circle cx="67.9" cy="164.9" r="5.1" fill="url(#gTi)"/>
<circle cx="110.5" cy="172.7" r="2.0" fill="url(#gN)"/>
<circle cx="127.2" cy="163.7" r="2.0" fill="url(#gN)"/>
<circle cx="61.8" cy="174.2" r="5.1" fill="url(#gTi)"/>
<circle cx="78.6" cy="165.2" r="5.1" fill="url(#gTi)"/>
<circle cx="121.1" cy="172.9" r="2.0" fill="url(#gN)"/>
<circle cx="137.8" cy="163.9" r="2.0" fill="url(#gN)"/>
<circle cx="72.4" cy="174.4" r="5.1" fill="url(#gTi)"/>
<circle cx="89.2" cy="165.4" r="5.1" fill="url(#gTi)"/>
<circle cx="49.5" cy="192.7" r="5.1" fill="url(#gTi)"/>
<circle cx="131.7" cy="173.2" r="2.0" fill="url(#gN)"/>
<circle cx="83.1" cy="174.6" r="5.1" fill="url(#gTi)"/>
<circle cx="99.8" cy="165.6" r="5.1" fill="url(#gTi)"/>
<circle cx="142.3" cy="173.4" r="2.0" fill="url(#gN)"/>
<circle cx="93.7" cy="174.9" r="5.1" fill="url(#gTi)"/>
<circle cx="110.5" cy="165.8" r="5.1" fill="url(#gTi)"/>
<circle cx="61.8" cy="167.3" r="2.0" fill="url(#gN)"/>
<circle cx="104.3" cy="175.1" r="5.1" fill="url(#gTi)"/>
<circle cx="121.1" cy="166.0" r="5.1" fill="url(#gTi)"/>
<circle cx="55.7" cy="176.6" r="2.0" fill="url(#gN)"/>
<circle cx="72.4" cy="167.5" r="2.0" fill="url(#gN)"/>
<circle cx="114.9" cy="175.3" r="5.1" fill="url(#gTi)"/>
<circle cx="49.5" cy="185.8" r="2.0" fill="url(#gN)"/>
<circle cx="131.7" cy="166.3" r="5.1" fill="url(#gTi)"/>
<circle cx="66.3" cy="176.8" r="2.0" fill="url(#gN)"/>
<circle cx="83.1" cy="167.7" r="2.0" fill="url(#gN)"/>
<circle cx="43.4" cy="195.1" r="2.0" fill="url(#gN)"/>
<circle cx="125.6" cy="175.5" r="5.1" fill="url(#gTi)"/>
<circle cx="142.3" cy="166.5" r="5.1" fill="url(#gTi)"/>
<circle cx="76.9" cy="177.0" r="2.0" fill="url(#gN)"/>
<circle cx="93.7" cy="168.0" r="2.0" fill="url(#gN)"/>
<circle cx="54.0" cy="195.3" r="2.0" fill="url(#gN)"/>
<circle cx="136.2" cy="175.7" r="5.1" fill="url(#gTi)"/>
<circle cx="87.6" cy="177.2" r="2.0" fill="url(#gN)"/>
<circle cx="104.3" cy="168.2" r="2.0" fill="url(#gN)"/>
<circle cx="146.8" cy="176.0" r="5.1" fill="url(#gTi)"/>
<circle cx="55.7" cy="169.7" r="5.1" fill="url(#gTi)"/>
<circle cx="98.2" cy="177.4" r="2.0" fill="url(#gN)"/>
<circle cx="114.9" cy="168.4" r="2.0" fill="url(#gN)"/>
<circle cx="49.5" cy="178.9" r="5.1" fill="url(#gTi)"/>
<circle cx="66.3" cy="169.9" r="5.1" fill="url(#gTi)"/>
<circle cx="108.8" cy="177.7" r="2.0" fill="url(#gN)"/>
<circle cx="43.4" cy="188.2" r="5.1" fill="url(#gTi)"/>
<circle cx="125.6" cy="168.6" r="2.0" fill="url(#gN)"/>
<circle cx="60.2" cy="179.2" r="5.1" fill="url(#gTi)"/>
<circle cx="76.9" cy="170.1" r="5.1" fill="url(#gTi)"/>
<circle cx="119.4" cy="177.9" r="2.0" fill="url(#gN)"/>
<circle cx="54.0" cy="188.4" r="5.1" fill="url(#gTi)"/>
<circle cx="136.2" cy="168.8" r="2.0" fill="url(#gN)"/>
<circle cx="70.8" cy="179.4" r="5.1" fill="url(#gTi)"/>
<circle cx="87.6" cy="170.3" r="5.1" fill="url(#gTi)"/>
<circle cx="47.9" cy="197.7" r="5.1" fill="url(#gTi)"/>
<circle cx="155.8" cy="194.9" r="5.1" fill="url(#gTi)"/>
<circle cx="130.1" cy="178.1" r="2.0" fill="url(#gN)"/>
<circle cx="146.8" cy="169.1" r="2.0" fill="url(#gN)"/>
<circle cx="81.4" cy="179.6" r="5.1" fill="url(#gTi)"/>
<circle cx="98.2" cy="170.5" r="5.1" fill="url(#gTi)"/>
<circle cx="58.5" cy="197.9" r="5.1" fill="url(#gTi)"/>
<circle cx="140.7" cy="178.3" r="2.0" fill="url(#gN)"/>
<circle cx="49.5" cy="172.0" r="2.0" fill="url(#gN)"/>
<circle cx="92.0" cy="179.8" r="5.1" fill="url(#gTi)"/>
<circle cx="108.8" cy="170.8" r="5.1" fill="url(#gTi)"/>
<circle cx="43.4" cy="181.3" r="2.0" fill="url(#gN)"/>
<circle cx="151.3" cy="178.5" r="2.0" fill="url(#gN)"/>
<circle cx="60.2" cy="172.3" r="2.0" fill="url(#gN)"/>
<circle cx="102.7" cy="180.0" r="5.1" fill="url(#gTi)"/>
<circle cx="119.4" cy="171.0" r="5.1" fill="url(#gTi)"/>
<circle cx="54.0" cy="181.5" r="2.0" fill="url(#gN)"/>
<circle cx="70.8" cy="172.5" r="2.0" fill="url(#gN)"/>
<circle cx="113.3" cy="180.2" r="5.1" fill="url(#gTi)"/>
<circle cx="47.9" cy="190.8" r="2.0" fill="url(#gN)"/>
<circle cx="155.8" cy="188.0" r="2.0" fill="url(#gN)"/>
<circle cx="130.1" cy="171.2" r="5.1" fill="url(#gTi)"/>
<circle cx="64.7" cy="181.7" r="2.0" fill="url(#gN)"/>
<circle cx="81.4" cy="172.7" r="2.0" fill="url(#gN)"/>
<circle cx="149.7" cy="197.3" r="2.0" fill="url(#gN)"/>
<circle cx="123.9" cy="180.5" r="5.1" fill="url(#gTi)"/>
<circle cx="58.5" cy="191.0" r="2.0" fill="url(#gN)"/>
<circle cx="140.7" cy="171.4" r="5.1" fill="url(#gTi)"/>
<circle cx="75.3" cy="182.0" r="2.0" fill="url(#gN)"/>
<circle cx="92.0" cy="172.9" r="2.0" fill="url(#gN)"/>
<circle cx="52.4" cy="200.3" r="2.0" fill="url(#gN)"/>
<circle cx="160.3" cy="197.5" r="2.0" fill="url(#gN)"/>
<circle cx="134.6" cy="180.7" r="5.1" fill="url(#gTi)"/>
<circle cx="43.4" cy="174.4" r="5.1" fill="url(#gTi)"/>
<circle cx="151.3" cy="171.6" r="5.1" fill="url(#gTi)"/>
<circle cx="85.9" cy="182.2" r="2.0" fill="url(#gN)"/>
<circle cx="102.7" cy="173.1" r="2.0" fill="url(#gN)"/>
<circle cx="63.0" cy="200.5" r="2.0" fill="url(#gN)"/>
<circle cx="145.2" cy="180.9" r="5.1" fill="url(#gTi)"/>
<circle cx="54.0" cy="174.6" r="5.1" fill="url(#gTi)"/>
<circle cx="96.5" cy="182.4" r="2.0" fill="url(#gN)"/>
<circle cx="113.3" cy="173.3" r="2.0" fill="url(#gN)"/>
<circle cx="47.9" cy="183.9" r="5.1" fill="url(#gTi)"/>
<circle cx="155.8" cy="181.1" r="5.1" fill="url(#gTi)"/>
<circle cx="64.7" cy="174.8" r="5.1" fill="url(#gTi)"/>
<circle cx="107.2" cy="182.6" r="2.0" fill="url(#gN)"/>
<circle cx="149.7" cy="190.4" r="5.1" fill="url(#gTi)"/>
<circle cx="123.9" cy="173.6" r="2.0" fill="url(#gN)"/>
<circle cx="58.5" cy="184.1" r="5.1" fill="url(#gTi)"/>
<circle cx="75.3" cy="175.1" r="5.1" fill="url(#gTi)"/>
<circle cx="143.5" cy="199.6" r="5.1" fill="url(#gTi)"/>
<circle cx="117.8" cy="182.8" r="2.0" fill="url(#gN)"/>
<circle cx="52.4" cy="193.4" r="5.1" fill="url(#gTi)"/>
<circle cx="160.3" cy="190.6" r="5.1" fill="url(#gTi)"/>
<circle cx="134.6" cy="173.8" r="2.0" fill="url(#gN)"/>
<circle cx="69.1" cy="184.3" r="5.1" fill="url(#gTi)"/>
<circle cx="85.9" cy="175.3" r="5.1" fill="url(#gTi)"/>
<circle cx="154.2" cy="199.9" r="5.1" fill="url(#gTi)"/>
<circle cx="128.4" cy="183.0" r="2.0" fill="url(#gN)"/>
<circle cx="63.0" cy="193.6" r="5.1" fill="url(#gTi)"/>
<circle cx="145.2" cy="174.0" r="2.0" fill="url(#gN)"/>
<circle cx="79.8" cy="184.5" r="5.1" fill="url(#gTi)"/>
<circle cx="96.5" cy="175.5" r="5.1" fill="url(#gTi)"/>
<circle cx="56.9" cy="202.8" r="5.1" fill="url(#gTi)"/>
<circle cx="139.0" cy="183.3" r="2.0" fill="url(#gN)"/>
<circle cx="47.9" cy="177.0" r="2.0" fill="url(#gN)"/>
<circle cx="155.8" cy="174.2" r="2.0" fill="url(#gN)"/>
<circle cx="90.4" cy="184.8" r="5.1" fill="url(#gTi)"/>
<circle cx="107.2" cy="175.7" r="5.1" fill="url(#gTi)"/>
<circle cx="67.5" cy="203.1" r="5.1" fill="url(#gTi)"/>
<circle cx="149.7" cy="183.5" r="2.0" fill="url(#gN)"/>
<circle cx="58.5" cy="177.2" r="2.0" fill="url(#gN)"/>
<circle cx="101.0" cy="185.0" r="5.1" fill="url(#gTi)"/>
<circle cx="143.5" cy="192.7" r="2.0" fill="url(#gN)"/>
<circle cx="117.8" cy="175.9" r="5.1" fill="url(#gTi)"/>
<circle cx="52.4" cy="186.5" r="2.0" fill="url(#gN)"/>
<circle cx="160.3" cy="183.7" r="2.0" fill="url(#gN)"/>
<circle cx="69.1" cy="177.4" r="2.0" fill="url(#gN)"/>
<circle cx="137.4" cy="202.0" r="2.0" fill="url(#gN)"/>
<circle cx="111.7" cy="185.2" r="5.1" fill="url(#gTi)"/>
<circle cx="154.2" cy="193.0" r="2.0" fill="url(#gN)"/>
<circle cx="128.4" cy="176.1" r="5.1" fill="url(#gTi)"/>
<circle cx="63.0" cy="186.7" r="2.0" fill="url(#gN)"/>
<circle cx="79.8" cy="177.6" r="2.0" fill="url(#gN)"/>
<circle cx="148.0" cy="202.2" r="2.0" fill="url(#gN)"/>
<circle cx="122.3" cy="185.4" r="5.1" fill="url(#gTi)"/>
<circle cx="56.9" cy="195.9" r="2.0" fill="url(#gN)"/>
<circle cx="139.0" cy="176.4" r="5.1" fill="url(#gTi)"/>
<circle cx="73.6" cy="186.9" r="2.0" fill="url(#gN)"/>
<circle cx="90.4" cy="177.9" r="2.0" fill="url(#gN)"/>
<circle cx="132.9" cy="185.6" r="5.1" fill="url(#gTi)"/>
<circle cx="67.5" cy="196.2" r="2.0" fill="url(#gN)"/>
<circle cx="149.7" cy="176.6" r="5.1" fill="url(#gTi)"/>
<circle cx="84.3" cy="187.1" r="2.0" fill="url(#gN)"/>
<circle cx="101.0" cy="178.1" r="2.0" fill="url(#gN)"/>
<circle cx="61.4" cy="205.4" r="2.0" fill="url(#gN)"/>
<circle cx="143.5" cy="185.8" r="5.1" fill="url(#gTi)"/>
<circle cx="52.4" cy="179.6" r="5.1" fill="url(#gTi)"/>
<circle cx="160.3" cy="176.8" r="5.1" fill="url(#gTi)"/>
<circle cx="94.9" cy="187.3" r="2.0" fill="url(#gN)"/>
<circle cx="137.4" cy="195.1" r="5.1" fill="url(#gTi)"/>
<circle cx="111.7" cy="178.3" r="2.0" fill="url(#gN)"/>
<circle cx="72.0" cy="205.6" r="2.0" fill="url(#gN)"/>
<circle cx="154.2" cy="186.1" r="5.1" fill="url(#gTi)"/>
<circle cx="63.0" cy="179.8" r="5.1" fill="url(#gTi)"/>
<circle cx="131.3" cy="204.4" r="5.1" fill="url(#gTi)"/>
<circle cx="105.5" cy="187.6" r="2.0" fill="url(#gN)"/>
<circle cx="148.0" cy="195.3" r="5.1" fill="url(#gTi)"/>
<circle cx="122.3" cy="178.5" r="2.0" fill="url(#gN)"/>
<circle cx="56.9" cy="189.0" r="5.1" fill="url(#gTi)"/>
<circle cx="73.6" cy="180.0" r="5.1" fill="url(#gTi)"/>
<circle cx="141.9" cy="204.6" r="5.1" fill="url(#gTi)"/>
<circle cx="116.1" cy="187.8" r="2.0" fill="url(#gN)"/>
<circle cx="132.9" cy="178.7" r="2.0" fill="url(#gN)"/>
<circle cx="67.5" cy="189.3" r="5.1" fill="url(#gTi)"/>
<circle cx="84.3" cy="180.2" r="5.1" fill="url(#gTi)"/>
<circle cx="126.8" cy="188.0" r="2.0" fill="url(#gN)"/>
<circle cx="61.4" cy="198.5" r="5.1" fill="url(#gTi)"/>
<circle cx="143.5" cy="178.9" r="2.0" fill="url(#gN)"/>
<circle cx="78.1" cy="189.5" r="5.1" fill="url(#gTi)"/>
<circle cx="94.9" cy="180.4" r="5.1" fill="url(#gTi)"/>
<circle cx="137.4" cy="188.2" r="2.0" fill="url(#gN)"/>
<circle cx="72.0" cy="198.7" r="5.1" fill="url(#gTi)"/>
<circle cx="154.2" cy="179.2" r="2.0" fill="url(#gN)"/>
<circle cx="88.8" cy="189.7" r="5.1" fill="url(#gTi)"/>
<circle cx="131.3" cy="197.5" r="2.0" fill="url(#gN)"/>
<circle cx="105.5" cy="180.7" r="5.1" fill="url(#gTi)"/>
<circle cx="65.9" cy="208.0" r="5.1" fill="url(#gTi)"/>
<circle cx="148.0" cy="188.4" r="2.0" fill="url(#gN)"/>
<circle cx="56.9" cy="182.1" r="2.0" fill="url(#gN)"/>
<circle cx="125.1" cy="206.7" r="2.0" fill="url(#gN)"/>
<circle cx="99.4" cy="189.9" r="5.1" fill="url(#gTi)"/>
<circle cx="141.9" cy="197.7" r="2.0" fill="url(#gN)"/>
<circle cx="116.1" cy="180.9" r="5.1" fill="url(#gTi)"/>
<circle cx="76.5" cy="208.2" r="5.1" fill="url(#gTi)"/>
<circle cx="67.5" cy="182.4" r="2.0" fill="url(#gN)"/>
<circle cx="135.8" cy="207.0" r="2.0" fill="url(#gN)"/>
<circle cx="110.0" cy="190.1" r="5.1" fill="url(#gTi)"/>
<circle cx="126.8" cy="181.1" r="5.1" fill="url(#gTi)"/>
<circle cx="61.4" cy="191.6" r="2.0" fill="url(#gN)"/>
<circle cx="78.1" cy="182.6" r="2.0" fill="url(#gN)"/>
<circle cx="120.6" cy="190.4" r="5.1" fill="url(#gTi)"/>
<circle cx="137.4" cy="181.3" r="5.1" fill="url(#gTi)"/>
<circle cx="72.0" cy="191.8" r="2.0" fill="url(#gN)"/>
<circle cx="88.8" cy="182.8" r="2.0" fill="url(#gN)"/>
<circle cx="131.3" cy="190.6" r="5.1" fill="url(#gTi)"/>
<circle cx="65.9" cy="201.1" r="2.0" fill="url(#gN)"/>
<circle cx="148.0" cy="181.5" r="5.1" fill="url(#gTi)"/>
<circle cx="82.6" cy="192.1" r="2.0" fill="url(#gN)"/>
<circle cx="125.1" cy="199.8" r="5.1" fill="url(#gTi)"/>
<circle cx="99.4" cy="183.0" r="2.0" fill="url(#gN)"/>
<circle cx="141.9" cy="190.8" r="5.1" fill="url(#gTi)"/>
<circle cx="76.5" cy="201.3" r="2.0" fill="url(#gN)"/>
<circle cx="119.0" cy="209.1" r="5.1" fill="url(#gTi)"/>
<circle cx="93.2" cy="192.3" r="2.0" fill="url(#gN)"/>
<circle cx="135.8" cy="200.1" r="5.1" fill="url(#gTi)"/>
<circle cx="110.0" cy="183.2" r="2.0" fill="url(#gN)"/>
<circle cx="70.3" cy="210.6" r="2.0" fill="url(#gN)"/>
<circle cx="61.4" cy="184.7" r="5.1" fill="url(#gTi)"/>
<circle cx="129.6" cy="209.3" r="5.1" fill="url(#gTi)"/>
<circle cx="103.9" cy="192.5" r="2.0" fill="url(#gN)"/>
<circle cx="120.6" cy="183.5" r="2.0" fill="url(#gN)"/>
<circle cx="81.0" cy="210.8" r="2.0" fill="url(#gN)"/>
<circle cx="72.0" cy="184.9" r="5.1" fill="url(#gTi)"/>
<circle cx="114.5" cy="192.7" r="2.0" fill="url(#gN)"/>
<circle cx="131.3" cy="183.7" r="2.0" fill="url(#gN)"/>
<circle cx="65.9" cy="194.2" r="5.1" fill="url(#gTi)"/>
<circle cx="82.6" cy="185.2" r="5.1" fill="url(#gTi)"/>
<circle cx="125.1" cy="192.9" r="2.0" fill="url(#gN)"/>
<circle cx="141.9" cy="183.9" r="2.0" fill="url(#gN)"/>
<circle cx="76.5" cy="194.4" r="5.1" fill="url(#gTi)"/>
<circle cx="119.0" cy="202.2" r="2.0" fill="url(#gN)"/>
<circle cx="93.2" cy="185.4" r="5.1" fill="url(#gTi)"/>
<circle cx="135.8" cy="193.2" r="2.0" fill="url(#gN)"/>
<circle cx="70.3" cy="203.7" r="5.1" fill="url(#gTi)"/>
<circle cx="112.9" cy="211.5" r="2.0" fill="url(#gN)"/>
<circle cx="87.1" cy="194.6" r="5.1" fill="url(#gTi)"/>
<circle cx="129.6" cy="202.4" r="2.0" fill="url(#gN)"/>
<circle cx="103.9" cy="185.6" r="5.1" fill="url(#gTi)"/>
<circle cx="81.0" cy="203.9" r="5.1" fill="url(#gTi)"/>
<circle cx="123.5" cy="211.7" r="2.0" fill="url(#gN)"/>
<circle cx="97.7" cy="194.9" r="5.1" fill="url(#gTi)"/>
<circle cx="114.5" cy="185.8" r="5.1" fill="url(#gTi)"/>
<circle cx="74.8" cy="213.2" r="5.1" fill="url(#gTi)"/>
<circle cx="65.9" cy="187.3" r="2.0" fill="url(#gN)"/>
<circle cx="108.4" cy="195.1" r="5.1" fill="url(#gTi)"/>
<circle cx="125.1" cy="186.0" r="5.1" fill="url(#gTi)"/>
<circle cx="85.5" cy="213.4" r="5.1" fill="url(#gTi)"/>
<circle cx="76.5" cy="187.5" r="2.0" fill="url(#gN)"/>
<circle cx="119.0" cy="195.3" r="5.1" fill="url(#gTi)"/>
<circle cx="135.8" cy="186.3" r="5.1" fill="url(#gTi)"/>
<circle cx="70.3" cy="196.8" r="2.0" fill="url(#gN)"/>
<circle cx="112.9" cy="204.6" r="5.1" fill="url(#gTi)"/>
<circle cx="87.1" cy="187.7" r="2.0" fill="url(#gN)"/>
<circle cx="129.6" cy="195.5" r="5.1" fill="url(#gTi)"/>
<circle cx="106.7" cy="213.8" r="5.1" fill="url(#gTi)"/>
<circle cx="81.0" cy="197.0" r="2.0" fill="url(#gN)"/>
<circle cx="123.5" cy="204.8" r="5.1" fill="url(#gTi)"/>
<circle cx="97.7" cy="188.0" r="2.0" fill="url(#gN)"/>
<circle cx="74.8" cy="206.3" r="2.0" fill="url(#gN)"/>
<circle cx="117.3" cy="214.0" r="5.1" fill="url(#gTi)"/>
<circle cx="91.6" cy="197.2" r="2.0" fill="url(#gN)"/>
<circle cx="108.4" cy="188.2" r="2.0" fill="url(#gN)"/>
<circle cx="85.5" cy="206.5" r="2.0" fill="url(#gN)"/>
<circle cx="102.2" cy="197.4" r="2.0" fill="url(#gN)"/>
<circle cx="119.0" cy="188.4" r="2.0" fill="url(#gN)"/>
<circle cx="79.3" cy="215.8" r="2.0" fill="url(#gN)"/>
<circle cx="70.3" cy="189.9" r="5.1" fill="url(#gTi)"/>
<circle cx="112.9" cy="197.7" r="2.0" fill="url(#gN)"/>
<circle cx="129.6" cy="188.6" r="2.0" fill="url(#gN)"/>
<circle cx="90.0" cy="216.0" r="2.0" fill="url(#gN)"/>
<circle cx="106.7" cy="206.9" r="2.0" fill="url(#gN)"/>
<circle cx="81.0" cy="190.1" r="5.1" fill="url(#gTi)"/>
<circle cx="123.5" cy="197.9" r="2.0" fill="url(#gN)"/>
<circle cx="100.6" cy="216.2" r="2.0" fill="url(#gN)"/>
<circle cx="74.8" cy="199.4" r="5.1" fill="url(#gTi)"/>
<circle cx="117.3" cy="207.1" r="2.0" fill="url(#gN)"/>
<circle cx="91.6" cy="190.3" r="5.1" fill="url(#gTi)"/>
<circle cx="111.2" cy="216.4" r="2.0" fill="url(#gN)"/>
<circle cx="85.5" cy="199.6" r="5.1" fill="url(#gTi)"/>
<circle cx="102.2" cy="190.5" r="5.1" fill="url(#gTi)"/>
<circle cx="79.3" cy="208.9" r="5.1" fill="url(#gTi)"/>
<circle cx="96.1" cy="199.8" r="5.1" fill="url(#gTi)"/>
<circle cx="112.9" cy="190.8" r="5.1" fill="url(#gTi)"/>
<circle cx="90.0" cy="209.1" r="5.1" fill="url(#gTi)"/>
<circle cx="106.7" cy="200.0" r="5.1" fill="url(#gTi)"/>
<circle cx="123.5" cy="191.0" r="5.1" fill="url(#gTi)"/>
<circle cx="83.8" cy="218.3" r="5.1" fill="url(#gTi)"/>
<circle cx="100.6" cy="209.3" r="5.1" fill="url(#gTi)"/>
<circle cx="74.8" cy="192.5" r="2.0" fill="url(#gN)"/>
<circle cx="117.3" cy="200.2" r="5.1" fill="url(#gTi)"/>
<circle cx="94.4" cy="218.6" r="5.1" fill="url(#gTi)"/>
<circle cx="111.2" cy="209.5" r="5.1" fill="url(#gTi)"/>
<circle cx="85.5" cy="192.7" r="2.0" fill="url(#gN)"/>
<circle cx="105.1" cy="218.8" r="5.1" fill="url(#gTi)"/>
<circle cx="79.3" cy="202.0" r="2.0" fill="url(#gN)"/>
<circle cx="96.1" cy="192.9" r="2.0" fill="url(#gN)"/>
<circle cx="90.0" cy="202.2" r="2.0" fill="url(#gN)"/>
<circle cx="106.7" cy="193.1" r="2.0" fill="url(#gN)"/>
<circle cx="83.8" cy="211.4" r="2.0" fill="url(#gN)"/>
<circle cx="100.6" cy="202.4" r="2.0" fill="url(#gN)"/>
<circle cx="117.3" cy="193.3" r="2.0" fill="url(#gN)"/>
<circle cx="94.4" cy="211.7" r="2.0" fill="url(#gN)"/>
<circle cx="111.2" cy="202.6" r="2.0" fill="url(#gN)"/>
<circle cx="88.3" cy="220.9" r="2.0" fill="url(#gN)"/>
<circle cx="105.1" cy="211.9" r="2.0" fill="url(#gN)"/>
<circle cx="79.3" cy="195.1" r="5.1" fill="url(#gTi)"/>
<circle cx="98.9" cy="221.1" r="2.0" fill="url(#gN)"/>
<circle cx="90.0" cy="195.3" r="5.1" fill="url(#gTi)"/>
<circle cx="83.8" cy="204.5" r="5.1" fill="url(#gTi)"/>
<circle cx="100.6" cy="195.5" r="5.1" fill="url(#gTi)"/>
<circle cx="94.4" cy="204.8" r="5.1" fill="url(#gTi)"/>
<circle cx="111.2" cy="195.7" r="5.1" fill="url(#gTi)"/>
<circle cx="88.3" cy="214.0" r="5.1" fill="url(#gTi)"/>
<circle cx="105.1" cy="205.0" r="5.1" fill="url(#gTi)"/>
<circle cx="98.9" cy="214.2" r="5.1" fill="url(#gTi)"/>
<circle cx="92.8" cy="223.5" r="5.1" fill="url(#gTi)"/>
<circle cx="83.8" cy="197.6" r="2.0" fill="url(#gN)"/>
<circle cx="94.4" cy="197.9" r="2.0" fill="url(#gN)"/>
<circle cx="88.3" cy="207.1" r="2.0" fill="url(#gN)"/>
<circle cx="105.1" cy="198.1" r="2.0" fill="url(#gN)"/>
<circle cx="98.9" cy="207.3" r="2.0" fill="url(#gN)"/>
<circle cx="92.8" cy="216.6" r="2.0" fill="url(#gN)"/>
<circle cx="88.3" cy="200.2" r="5.1" fill="url(#gTi)"/>
<circle cx="98.9" cy="200.4" r="5.1" fill="url(#gTi)"/>
<circle cx="92.8" cy="209.7" r="5.1" fill="url(#gTi)"/>
<circle cx="92.8" cy="202.8" r="2.0" fill="url(#gN)"/>
<circle cx="88.1" cy="163.6" r="4.9" fill="url(#gNP2)"/>
<circle cx="114.6" cy="164.6" r="4.9" fill="url(#gNP2)"/>
<circle cx="86.8" cy="168.3" r="4.9" fill="url(#gNP2)"/>
<circle cx="114.0" cy="169.2" r="4.9" fill="url(#gNP2)"/>
<circle cx="89.0" cy="176.0" r="4.9" fill="url(#gNP2)"/>
<circle cx="109.6" cy="176.6" r="4.9" fill="url(#gNP2)"/>
<circle cx="98.5" cy="177.8" r="4.9" fill="url(#gNP2)"/>
<circle cx="98.0" cy="160.6" r="4.9" fill="url(#gNP)"/>
<circle cx="107.0" cy="160.8" r="4.9" fill="url(#gNP)"/>
<circle cx="97.3" cy="164.2" r="4.9" fill="url(#gNP)"/>
<circle cx="106.3" cy="164.5" r="4.9" fill="url(#gNP)"/>
<circle cx="96.3" cy="168.0" r="4.9" fill="url(#gNP)"/>
<circle cx="105.0" cy="168.6" r="4.9" fill="url(#gNP)"/>
<circle cx="94.5" cy="172.6" r="4.9" fill="url(#gNP)"/>
<circle cx="102.8" cy="173.0" r="4.9" fill="url(#gNP)"/>
<circle cx="192.1" cy="190.0" r="9.1" fill="url(#lRu)"/>
<circle cx="194.8" cy="186.2" r="1.18" fill="#fff" opacity="0.6"/>
<circle cx="191.0" cy="190.5" r="1.09" fill="#fff" opacity="0.35"/>
<circle cx="225.0" cy="190.0" r="9.1" fill="url(#lNP)"/>
<circle cx="227.7" cy="186.2" r="1.18" fill="#fff" opacity="0.6"/>
<circle cx="223.9" cy="190.5" r="1.09" fill="#fff" opacity="0.35"/>
<circle cx="256.6" cy="190.5" r="9.3" fill="url(#lTi)"/>
<circle cx="259.4" cy="186.6" r="1.21" fill="#fff" opacity="0.6"/>
<circle cx="255.5" cy="191.0" r="1.12" fill="#fff" opacity="0.35"/>
<circle cx="278.4" cy="191.3" r="4.6" fill="url(#lN)"/>
<circle cx="279.8" cy="189.4" r="0.60" fill="#fff" opacity="0.6"/>
<circle cx="277.8" cy="191.5" r="0.55" fill="#fff" opacity="0.35"/>
<text x="40.7" y="36.4" font-size="13.8" fill="#1a1a1a" textLength="52" lengthAdjust="spacingAndGlyphs">Ru(105)</text>
<text x="180.2" y="36.0" font-size="13.8" fill="#1a1a1a" textLength="52.4" lengthAdjust="spacingAndGlyphs">Ru(109)</text>
<text x="40.3" y="141.4" font-size="13.8" fill="#1a1a1a" textLength="78.2" lengthAdjust="spacingAndGlyphs">Ru/TiN(100)</text>
<text x="191.30" y="176.10" font-size="11.4" text-anchor="middle" fill="#1a1a1a" >Ru</text>
<text x="225.40" y="176.10" font-size="11.4" text-anchor="middle" fill="#1a1a1a" >Ru NPs</text>
<text x="256.70" y="176.10" font-size="11.4" text-anchor="middle" fill="#1a1a1a" >Ti</text>
<text x="277.40" y="176.10" font-size="11.4" text-anchor="middle" fill="#1a1a1a" >N</text>
<rect x="403.6" y="11.4" width="273.29999999999995" height="212.0" fill="none" stroke="#858585" stroke-width="1.1"/>
<line x1="403.60" y1="219.12" x2="407.00" y2="219.12" stroke="#777777" stroke-width="1" />
<text x="401.60" y="219.32" font-size="9.2" text-anchor="end" fill="#262626" textLength="20.97" lengthAdjust="spacingAndGlyphs">-0.20</text>
<line x1="403.60" y1="190.40" x2="407.00" y2="190.40" stroke="#777777" stroke-width="1" />
<text x="401.60" y="190.60" font-size="9.2" text-anchor="end" fill="#262626" textLength="17.90" lengthAdjust="spacingAndGlyphs">0.00</text>
<line x1="403.60" y1="161.68" x2="407.00" y2="161.68" stroke="#777777" stroke-width="1" />
<text x="401.60" y="161.88" font-size="9.2" text-anchor="end" fill="#262626" textLength="17.90" lengthAdjust="spacingAndGlyphs">0.20</text>
<line x1="403.60" y1="132.96" x2="407.00" y2="132.96" stroke="#777777" stroke-width="1" />
<text x="401.60" y="133.16" font-size="9.2" text-anchor="end" fill="#262626" textLength="17.90" lengthAdjust="spacingAndGlyphs">0.40</text>
<line x1="403.60" y1="104.24" x2="407.00" y2="104.24" stroke="#777777" stroke-width="1" />
<text x="401.60" y="104.44" font-size="9.2" text-anchor="end" fill="#262626" textLength="17.90" lengthAdjust="spacingAndGlyphs">0.60</text>
<line x1="403.60" y1="75.52" x2="407.00" y2="75.52" stroke="#777777" stroke-width="1" />
<text x="401.60" y="75.72" font-size="9.2" text-anchor="end" fill="#262626" textLength="17.90" lengthAdjust="spacingAndGlyphs">0.80</text>
<line x1="403.60" y1="46.80" x2="407.00" y2="46.80" stroke="#777777" stroke-width="1" />
<text x="401.60" y="47.00" font-size="9.2" text-anchor="end" fill="#262626" textLength="17.90" lengthAdjust="spacingAndGlyphs">1.00</text>
<line x1="403.60" y1="18.08" x2="407.00" y2="18.08" stroke="#777777" stroke-width="1" />
<text x="401.60" y="18.28" font-size="9.2" text-anchor="end" fill="#262626" textLength="17.90" lengthAdjust="spacingAndGlyphs">1.20</text>
<line x1="416.60" y1="223.40" x2="416.60" y2="220.20" stroke="#777777" stroke-width="1" />
<text x="416.60" y="232.10" font-size="10.0" text-anchor="middle" fill="#262626" textLength="5.34" lengthAdjust="spacingAndGlyphs">1</text>
<line x1="442.40" y1="223.40" x2="442.40" y2="220.20" stroke="#777777" stroke-width="1" />
<text x="442.40" y="232.10" font-size="10.0" text-anchor="middle" fill="#262626" textLength="5.34" lengthAdjust="spacingAndGlyphs">2</text>
<line x1="468.20" y1="223.40" x2="468.20" y2="220.20" stroke="#777777" stroke-width="1" />
<text x="468.20" y="232.10" font-size="10.0" text-anchor="middle" fill="#262626" textLength="5.34" lengthAdjust="spacingAndGlyphs">3</text>
<line x1="494.00" y1="223.40" x2="494.00" y2="220.20" stroke="#777777" stroke-width="1" />
<text x="494.00" y="232.10" font-size="10.0" text-anchor="middle" fill="#262626" textLength="5.34" lengthAdjust="spacingAndGlyphs">4</text>
<line x1="519.80" y1="223.40" x2="519.80" y2="220.20" stroke="#777777" stroke-width="1" />
<text x="519.80" y="232.10" font-size="10.0" text-anchor="middle" fill="#262626" textLength="5.34" lengthAdjust="spacingAndGlyphs">5</text>
<line x1="545.60" y1="223.40" x2="545.60" y2="220.20" stroke="#777777" stroke-width="1" />
<text x="545.60" y="232.10" font-size="10.0" text-anchor="middle" fill="#262626" textLength="5.34" lengthAdjust="spacingAndGlyphs">6</text>
<line x1="571.40" y1="223.40" x2="571.40" y2="220.20" stroke="#777777" stroke-width="1" />
<text x="571.40" y="232.10" font-size="10.0" text-anchor="middle" fill="#262626" textLength="5.34" lengthAdjust="spacingAndGlyphs">7</text>
<line x1="597.20" y1="223.40" x2="597.20" y2="220.20" stroke="#777777" stroke-width="1" />
<text x="597.20" y="232.10" font-size="10.0" text-anchor="middle" fill="#262626" textLength="5.34" lengthAdjust="spacingAndGlyphs">8</text>
<line x1="623.00" y1="223.40" x2="623.00" y2="220.20" stroke="#777777" stroke-width="1" />
<text x="623.00" y="232.10" font-size="10.0" text-anchor="middle" fill="#262626" textLength="5.34" lengthAdjust="spacingAndGlyphs">9</text>
<line x1="648.80" y1="223.40" x2="648.80" y2="220.20" stroke="#777777" stroke-width="1" />
<text x="648.80" y="232.10" font-size="10.0" text-anchor="middle" fill="#262626" textLength="10.68" lengthAdjust="spacingAndGlyphs">10</text>
<line x1="674.60" y1="223.40" x2="674.60" y2="220.20" stroke="#777777" stroke-width="1" />
<text x="674.60" y="232.10" font-size="10.0" text-anchor="middle" fill="#262626" textLength="10.68" lengthAdjust="spacingAndGlyphs">11</text>
<text x="540.30" y="243.90" font-size="11.5" text-anchor="middle" fill="#262626" font-style="italic" >cn</text>
<text x="0" y="0" font-size="10.3" fill="#262626" textLength="97.5" lengthAdjust="spacingAndGlyphs" transform="translate(375.8 166.3) rotate(-90)">ΔG<tspan font-size="7.4" font-style="italic" dy="1.6">H</tspan><tspan dy="-1.6"> @ pH = 14 / eV</tspan></text>
<line x1="416.80" y1="164.40" x2="633.50" y2="39.20" stroke="#c8b3a6" stroke-width="1.8" stroke-dasharray="5.5 3.5"/>
<line x1="571.70" y1="124.40" x2="659.30" y2="79.10" stroke="#e8842c" stroke-width="1.8" stroke-dasharray="5.5 3.5"/>
<line x1="416.60" y1="162.30" x2="416.60" y2="190.80" stroke="#6e6e6e" stroke-width="1.1" />
<line x1="414.20" y1="162.30" x2="419.00" y2="162.30" stroke="#707070" stroke-width="0.9" />
<line x1="414.20" y1="190.80" x2="419.00" y2="190.80" stroke="#707070" stroke-width="0.9" />
<line x1="442.40" y1="123.10" x2="442.40" y2="162.30" stroke="#6e6e6e" stroke-width="1.1" />
<line x1="440.00" y1="123.10" x2="444.80" y2="123.10" stroke="#707070" stroke-width="0.9" />
<line x1="440.00" y1="162.30" x2="444.80" y2="162.30" stroke="#707070" stroke-width="0.9" />
<line x1="468.20" y1="115.30" x2="468.20" y2="153.30" stroke="#6e6e6e" stroke-width="1.1" />
<line x1="465.80" y1="115.30" x2="470.60" y2="115.30" stroke="#707070" stroke-width="0.9" />
<line x1="465.80" y1="153.30" x2="470.60" y2="153.30" stroke="#707070" stroke-width="0.9" />
<line x1="494.00" y1="87.40" x2="494.00" y2="126.20" stroke="#6e6e6e" stroke-width="1.1" />
<line x1="491.60" y1="87.40" x2="496.40" y2="87.40" stroke="#707070" stroke-width="0.9" />
<line x1="491.60" y1="126.20" x2="496.40" y2="126.20" stroke="#707070" stroke-width="0.9" />
<line x1="519.80" y1="83.50" x2="519.80" y2="115.60" stroke="#6e6e6e" stroke-width="1.1" />
<line x1="517.40" y1="83.50" x2="522.20" y2="83.50" stroke="#707070" stroke-width="0.9" />
<line x1="517.40" y1="115.60" x2="522.20" y2="115.60" stroke="#707070" stroke-width="0.9" />
<line x1="545.60" y1="82.80" x2="545.60" y2="121.10" stroke="#6e6e6e" stroke-width="1.1" />
<line x1="543.20" y1="82.80" x2="548.00" y2="82.80" stroke="#707070" stroke-width="0.9" />
<line x1="543.20" y1="121.10" x2="548.00" y2="121.10" stroke="#707070" stroke-width="0.9" />
<circle cx="416.60" cy="176.40" r="4.1" fill="#cdbdb2" stroke="#3a3a3a" stroke-width="0.9"/>
<circle cx="442.40" cy="142.70" r="4.1" fill="#cdbdb2" stroke="#3a3a3a" stroke-width="0.9"/>
<circle cx="468.20" cy="134.60" r="4.1" fill="#cdbdb2" stroke="#3a3a3a" stroke-width="0.9"/>
<circle cx="494.00" cy="107.20" r="4.1" fill="#cdbdb2" stroke="#3a3a3a" stroke-width="0.9"/>
<circle cx="519.80" cy="99.70" r="4.1" fill="#cdbdb2" stroke="#3a3a3a" stroke-width="0.9"/>
<circle cx="545.60" cy="101.70" r="4.1" fill="#cdbdb2" stroke="#3a3a3a" stroke-width="0.9"/>
<circle cx="597.10" cy="66.90" r="3.9" fill="#bdb0a8" stroke="#555" stroke-width="0.9"/>
<circle cx="596.90" cy="66.50" r="3.7" fill="#cdbdb2" stroke="#666" stroke-width="0.6"/>
<circle cx="623.00" cy="40.10" r="4.1" fill="#cdbdb2" stroke="#3a3a3a" stroke-width="0.9"/>
<line x1="571.30" y1="112.10" x2="571.30" y2="124.10" stroke="#e8842c" stroke-width="1.0" />
<line x1="568.90" y1="112.10" x2="573.70" y2="112.10" stroke="#e8842c" stroke-width="0.9" />
<line x1="568.90" y1="124.10" x2="573.70" y2="124.10" stroke="#e8842c" stroke-width="0.9" />
<line x1="605.50" y1="98.10" x2="605.50" y2="123.40" stroke="#e8842c" stroke-width="1.0" />
<line x1="603.10" y1="98.10" x2="607.90" y2="98.10" stroke="#e8842c" stroke-width="0.9" />
<line x1="603.10" y1="123.40" x2="607.90" y2="123.40" stroke="#e8842c" stroke-width="0.9" />
<line x1="631.20" y1="87.60" x2="631.20" y2="103.60" stroke="#e8842c" stroke-width="1.0" />
<line x1="628.80" y1="87.60" x2="633.60" y2="87.60" stroke="#e8842c" stroke-width="0.9" />
<line x1="628.80" y1="103.60" x2="633.60" y2="103.60" stroke="#e8842c" stroke-width="0.9" />
<circle cx="571.30" cy="118.00" r="4.1" fill="#e8842c" stroke="#4a2a10" stroke-width="0.8"/>
<circle cx="588.40" cy="111.80" r="4.1" fill="#e8842c" stroke="#4a2a10" stroke-width="0.8"/>
<circle cx="605.50" cy="110.90" r="4.1" fill="#e8842c" stroke="#4a2a10" stroke-width="0.8"/>
<circle cx="614.10" cy="107.70" r="4.1" fill="#e8842c" stroke="#4a2a10" stroke-width="0.8"/>
<circle cx="622.80" cy="109.20" r="4.1" fill="#e8842c" stroke="#4a2a10" stroke-width="0.8"/>
<circle cx="631.20" cy="95.80" r="4.1" fill="#e8842c" stroke="#4a2a10" stroke-width="0.8"/>
<circle cx="657.20" cy="69.10" r="4.1" fill="#e8842c" stroke="#4a2a10" stroke-width="0.8"/>
<line x1="621.70" y1="53.50" x2="621.70" y2="90.50" stroke="#000" stroke-width="2.6" />
<path d="M621.7 48.2 L618.3000000000001 55.2 L625.1 55.2 Z" fill="#000"/>
<path d="M621.7 95.8 L618.3000000000001 88.8 L625.1 88.8 Z" fill="#000"/>
<text x="624.40" y="64.60" font-size="7.3" text-anchor="start" fill="#111" >~ 0.27 eV</text>
<rect x="413.5" y="30.5" width="125.1" height="35.6" fill="#fff" stroke="#c9b5a8" stroke-width="1.1"/>
<text x="417" y="40.5" font-size="9.6" fill="#8a8a8a">ΔG<tspan font-size="7.6" font-style="italic" dy="2">H</tspan><tspan dy="-2"> = 0.10 cn</tspan><tspan font-size="7.6" font-style="italic" dy="2">Ru/TiN</tspan><tspan dy="-2"> +   0.08</tspan></text>
<text x="417.00" y="50.90" font-size="9.6" text-anchor="start" fill="#8a8a8a" >MAE = 0.05 eV</text>
<text x="417.00" y="61.30" font-size="9.6" text-anchor="start" fill="#8a8a8a" >MAX = 0.09 eV</text>
<rect x="555.8" y="171.6" width="103.6" height="35.8" fill="#fff" stroke="#e8842c" stroke-width="1.2"/>
<text x="558.5" y="181.7" font-size="9.6" fill="#e8842c" textLength="97.4" lengthAdjust="spacingAndGlyphs">ΔG<tspan font-size="7.6" font-style="italic" dy="2">H</tspan><tspan dy="-2"> = 0.09 cn</tspan><tspan font-size="7.6" font-style="italic" dy="2">Ru</tspan><tspan dy="-2"> -0.19</tspan></text>
<text x="558.50" y="191.90" font-size="9.6" text-anchor="start" fill="#e8842c" >MAE = 0.04 eV</text>
<text x="558.50" y="202.10" font-size="9.6" text-anchor="start" fill="#e8842c" >MAX = 0.08 eV</text>
<rect x="38.0" y="263.4" width="270.8" height="210.3" fill="none" stroke="#a8a8a8" stroke-width="1.1"/>
<text x="36.20" y="275.80" font-size="9.9" text-anchor="end" fill="#262626" textLength="18.88" lengthAdjust="spacingAndGlyphs">0.00</text>
<line x1="38.00" y1="322.58" x2="41.40" y2="322.58" stroke="#777777" stroke-width="1" />
<text x="36.20" y="322.38" font-size="9.9" text-anchor="end" fill="#262626" textLength="22.11" lengthAdjust="spacingAndGlyphs">-0.20</text>
<line x1="38.00" y1="369.16" x2="41.40" y2="369.16" stroke="#777777" stroke-width="1" />
<text x="36.20" y="368.96" font-size="9.9" text-anchor="end" fill="#262626" textLength="22.11" lengthAdjust="spacingAndGlyphs">-0.40</text>
<line x1="38.00" y1="415.74" x2="41.40" y2="415.74" stroke="#777777" stroke-width="1" />
<text x="36.20" y="415.54" font-size="9.9" text-anchor="end" fill="#262626" textLength="22.11" lengthAdjust="spacingAndGlyphs">-0.60</text>
<line x1="38.00" y1="462.32" x2="41.40" y2="462.32" stroke="#777777" stroke-width="1" />
<text x="36.20" y="462.12" font-size="9.9" text-anchor="end" fill="#262626" textLength="22.11" lengthAdjust="spacingAndGlyphs">-0.80</text>
<line x1="41.00" y1="473.70" x2="41.00" y2="470.50" stroke="#777777" stroke-width="1" />
<text x="41.00" y="482.10" font-size="9.7" text-anchor="middle" fill="#262626" textLength="18.49" lengthAdjust="spacingAndGlyphs">0.00</text>
<line x1="73.44" y1="473.70" x2="73.44" y2="470.50" stroke="#777777" stroke-width="1" />
<text x="73.44" y="482.10" font-size="9.7" text-anchor="middle" fill="#262626" textLength="18.49" lengthAdjust="spacingAndGlyphs">0.20</text>
<line x1="105.88" y1="473.70" x2="105.88" y2="470.50" stroke="#777777" stroke-width="1" />
<text x="105.88" y="482.10" font-size="9.7" text-anchor="middle" fill="#262626" textLength="18.49" lengthAdjust="spacingAndGlyphs">0.40</text>
<line x1="138.32" y1="473.70" x2="138.32" y2="470.50" stroke="#777777" stroke-width="1" />
<text x="138.32" y="482.10" font-size="9.7" text-anchor="middle" fill="#262626" textLength="18.49" lengthAdjust="spacingAndGlyphs">0.60</text>
<line x1="170.76" y1="473.70" x2="170.76" y2="470.50" stroke="#777777" stroke-width="1" />
<text x="170.76" y="482.10" font-size="9.7" text-anchor="middle" fill="#262626" textLength="18.49" lengthAdjust="spacingAndGlyphs">0.80</text>
<line x1="203.20" y1="473.70" x2="203.20" y2="470.50" stroke="#777777" stroke-width="1" />
<text x="203.20" y="482.10" font-size="9.7" text-anchor="middle" fill="#262626" textLength="18.49" lengthAdjust="spacingAndGlyphs">1.00</text>
<line x1="235.64" y1="473.70" x2="235.64" y2="470.50" stroke="#777777" stroke-width="1" />
<text x="235.64" y="482.10" font-size="9.7" text-anchor="middle" fill="#262626" textLength="18.49" lengthAdjust="spacingAndGlyphs">1.20</text>
<line x1="268.08" y1="473.70" x2="268.08" y2="470.50" stroke="#777777" stroke-width="1" />
<text x="268.08" y="482.10" font-size="9.7" text-anchor="middle" fill="#262626" textLength="18.49" lengthAdjust="spacingAndGlyphs">1.40</text>
<line x1="300.52" y1="473.70" x2="300.52" y2="470.50" stroke="#777777" stroke-width="1" />
<text x="300.52" y="482.10" font-size="9.7" text-anchor="middle" fill="#262626" textLength="18.49" lengthAdjust="spacingAndGlyphs">1.60</text>
<line x1="38.00" y1="276.00" x2="308.80" y2="276.00" stroke="#8a8a8a" stroke-width="1.1" stroke-dasharray="2.6 1.3"/>
<line x1="175.70" y1="276.00" x2="175.70" y2="473.70" stroke="#8a8a8a" stroke-width="1.1" stroke-dasharray="2.6 1.3"/>
<polyline points="38.8,472.5 175.6,276.0 308.8,466.9" fill="none" stroke="#000" stroke-width="2.1"/>
<text x="0" y="0" font-size="10.2" fill="#262626" textLength="40.3" lengthAdjust="spacingAndGlyphs" transform="translate(8.8 387.4) rotate(-90)">-η<tspan font-size="7.6" font-style="italic" dy="1.8">HER</tspan><tspan dy="-1.8"> / V</tspan></text>
<text x="124.4" y="494.5" font-size="10.3" fill="#262626" textLength="97.6" lengthAdjust="spacingAndGlyphs">ΔG<tspan font-size="7.4" font-style="italic" dy="1.6">H</tspan><tspan dy="-1.6"> @ pH = 14 / eV</tspan></text>
<text x="0" y="0" font-size="11" fill="#262626" text-anchor="middle" transform="translate(131.5 390.5) rotate(-55)">strong binding</text>
<text x="0" y="0" font-size="11" fill="#262626" text-anchor="middle" transform="translate(233.6 390.8) rotate(52.5)">weak binding</text>
<circle cx="57.22" cy="446.02" r="3.9" fill="#cdbdb2" stroke="#3a3a3a" stroke-width="0.8"/>
<circle cx="94.53" cy="392.45" r="3.9" fill="#cdbdb2" stroke="#3a3a3a" stroke-width="0.8"/>
<circle cx="104.26" cy="378.48" r="3.9" fill="#cdbdb2" stroke="#3a3a3a" stroke-width="0.8"/>
<circle cx="122.75" cy="351.93" r="3.9" fill="#e8842c" stroke="#4a2a10" stroke-width="0.8"/>
<circle cx="129.89" cy="341.68" r="3.9" fill="#e8842c" stroke="#4a2a10" stroke-width="0.8"/>
<circle cx="131.18" cy="339.81" r="3.9" fill="#e8842c" stroke="#4a2a10" stroke-width="0.8"/>
<circle cx="132.64" cy="337.72" r="3.9" fill="#e8842c" stroke="#4a2a10" stroke-width="0.8"/>
<circle cx="134.43" cy="335.16" r="3.9" fill="#e8842c" stroke="#4a2a10" stroke-width="0.8"/>
<circle cx="135.56" cy="333.53" r="3.9" fill="#cdbdb2" stroke="#3a3a3a" stroke-width="0.8"/>
<circle cx="141.40" cy="325.14" r="3.9" fill="#cdbdb2" stroke="#3a3a3a" stroke-width="0.8"/>
<circle cx="143.67" cy="321.88" r="3.9" fill="#cdbdb2" stroke="#3a3a3a" stroke-width="0.8"/>
<circle cx="148.54" cy="314.89" r="3.9" fill="#e8842c" stroke="#4a2a10" stroke-width="0.8"/>
<circle cx="159.41" cy="299.29" r="3.9" fill="#1010f0" stroke="#222" stroke-width="0.8"/>
<circle cx="181.14" cy="283.92" r="3.9" fill="#cdbdb2" stroke="#3a3a3a" stroke-width="0.8"/>
<circle cx="211.31" cy="327.24" r="3.9" fill="#cdbdb2" stroke="#3a3a3a" stroke-width="0.8"/>
<circle cx="293.71" cy="445.55" r="3.9" fill="#f01010" stroke="#333" stroke-width="0.8"/>
<rect x="172.5" y="273.0" width="6.5" height="6.2" fill="#2e8b1e" stroke="#1a4a10" stroke-width="0.6"/>
<rect x="238.4" y="286.6" width="64.1" height="50.3" rx="1.5" fill="#fff" stroke="#a0a0a0" stroke-width="0.9"/>
<circle cx="248.00" cy="291.60" r="3.8" fill="#e8842c" stroke="#4a2a10" stroke-width="0.7"/>
<circle cx="248.00" cy="301.60" r="3.8" fill="#cdbdb2" stroke="#3a3a3a" stroke-width="0.7"/>
<rect x="244.7" y="307.8" width="6.6" height="6.6" fill="#2e8b1e" stroke="#1a4a10" stroke-width="0.5"/>
<circle cx="248.00" cy="320.70" r="3.8" fill="#f01010" stroke="#333" stroke-width="0.7"/>
<circle cx="248.00" cy="330.50" r="3.8" fill="#1010f0" stroke="#222" stroke-width="0.7"/>
<text x="260.30" y="294.00" font-size="6.8" text-anchor="start" fill="#333" >Ru</text>
<text x="260.30" y="304.00" font-size="6.8" text-anchor="start" fill="#333" >Ru/TiN(100)</text>
<text x="260.30" y="313.50" font-size="6.8" text-anchor="start" fill="#333" >ideal catalyst</text>
<text x="260.30" y="323.10" font-size="6.8" text-anchor="start" fill="#333" >support</text>
<text x="260.30" y="332.90" font-size="6.8" text-anchor="start" fill="#333" >Pt(111)</text>
<rect x="402.7" y="263.2" width="274.7" height="213.7" fill="none" stroke="#858585" stroke-width="1.1"/>
<line x1="402.70" y1="277.40" x2="405.90" y2="277.40" stroke="#777777" stroke-width="1" />
<text x="400.70" y="277.20" font-size="9.5" text-anchor="end" fill="#262626" textLength="5.23" lengthAdjust="spacingAndGlyphs">0</text>
<line x1="402.70" y1="304.97" x2="405.90" y2="304.97" stroke="#777777" stroke-width="1" />
<text x="400.70" y="304.77" font-size="9.5" text-anchor="end" fill="#262626" textLength="8.36" lengthAdjust="spacingAndGlyphs">-2</text>
<line x1="402.70" y1="332.54" x2="405.90" y2="332.54" stroke="#777777" stroke-width="1" />
<text x="400.70" y="332.34" font-size="9.5" text-anchor="end" fill="#262626" textLength="8.36" lengthAdjust="spacingAndGlyphs">-4</text>
<line x1="402.70" y1="360.12" x2="405.90" y2="360.12" stroke="#777777" stroke-width="1" />
<text x="400.70" y="359.92" font-size="9.5" text-anchor="end" fill="#262626" textLength="8.36" lengthAdjust="spacingAndGlyphs">-6</text>
<line x1="402.70" y1="387.69" x2="405.90" y2="387.69" stroke="#777777" stroke-width="1" />
<text x="400.70" y="387.49" font-size="9.5" text-anchor="end" fill="#262626" textLength="8.36" lengthAdjust="spacingAndGlyphs">-8</text>
<line x1="402.70" y1="415.26" x2="405.90" y2="415.26" stroke="#777777" stroke-width="1" />
<text x="400.70" y="415.06" font-size="9.5" text-anchor="end" fill="#262626" textLength="13.58" lengthAdjust="spacingAndGlyphs">-10</text>
<line x1="402.70" y1="442.83" x2="405.90" y2="442.83" stroke="#777777" stroke-width="1" />
<text x="400.70" y="442.63" font-size="9.5" text-anchor="end" fill="#262626" textLength="13.58" lengthAdjust="spacingAndGlyphs">-12</text>
<line x1="402.70" y1="470.40" x2="405.90" y2="470.40" stroke="#777777" stroke-width="1" />
<text x="400.70" y="470.20" font-size="9.5" text-anchor="end" fill="#262626" textLength="13.58" lengthAdjust="spacingAndGlyphs">-14</text>
<line x1="438.50" y1="476.90" x2="438.50" y2="473.70" stroke="#777777" stroke-width="1" />
<text x="438.50" y="485.10" font-size="9.5" text-anchor="middle" fill="#262626" textLength="18.10" lengthAdjust="spacingAndGlyphs">0.20</text>
<line x1="485.80" y1="476.90" x2="485.80" y2="473.70" stroke="#777777" stroke-width="1" />
<text x="485.80" y="485.10" font-size="9.5" text-anchor="middle" fill="#262626" textLength="18.10" lengthAdjust="spacingAndGlyphs">0.40</text>
<line x1="533.10" y1="476.90" x2="533.10" y2="473.70" stroke="#777777" stroke-width="1" />
<text x="533.10" y="485.10" font-size="9.5" text-anchor="middle" fill="#262626" textLength="18.10" lengthAdjust="spacingAndGlyphs">0.60</text>
<line x1="580.40" y1="476.90" x2="580.40" y2="473.70" stroke="#777777" stroke-width="1" />
<text x="580.40" y="485.10" font-size="9.5" text-anchor="middle" fill="#262626" textLength="18.10" lengthAdjust="spacingAndGlyphs">0.80</text>
<line x1="627.70" y1="476.90" x2="627.70" y2="473.70" stroke="#777777" stroke-width="1" />
<text x="627.70" y="485.10" font-size="9.5" text-anchor="middle" fill="#262626" textLength="18.10" lengthAdjust="spacingAndGlyphs">1.00</text>
<line x1="675.00" y1="476.90" x2="675.00" y2="473.70" stroke="#777777" stroke-width="1" />
<text x="675.00" y="485.10" font-size="9.5" text-anchor="middle" fill="#262626" textLength="18.10" lengthAdjust="spacingAndGlyphs">1.20</text>
<line x1="587.50" y1="278.00" x2="587.50" y2="476.90" stroke="#555" stroke-width="0.9" stroke-dasharray="2.5 1.2"/>
<polyline points="402.6,454.2 587.2,277.0 677.3,352.0" fill="none" stroke="#000" stroke-width="2.1"/>
<circle cx="413.90" cy="442.90" r="3.9" fill="#cdbdb2" stroke="#3a3a3a" stroke-width="0.8"/>
<text x="413.90" y="436.20" font-size="7.0" text-anchor="middle" fill="#333" >1</text>
<circle cx="469.30" cy="388.20" r="3.9" fill="#cdbdb2" stroke="#3a3a3a" stroke-width="0.8"/>
<text x="463.80" y="382.90" font-size="7.0" text-anchor="middle" fill="#333" >2</text>
<circle cx="483.20" cy="374.50" r="3.9" fill="#cdbdb2" stroke="#3a3a3a" stroke-width="0.8"/>
<text x="480.40" y="368.50" font-size="7.0" text-anchor="middle" fill="#333" >3</text>
<circle cx="528.40" cy="330.00" r="3.9" fill="#cdbdb2" stroke="#3a3a3a" stroke-width="0.8"/>
<text x="522.50" y="325.30" font-size="7.0" text-anchor="middle" fill="#333" >4</text>
<circle cx="536.80" cy="321.50" r="3.9" fill="#cdbdb2" stroke="#3a3a3a" stroke-width="0.8"/>
<text x="530.50" y="318.10" font-size="7.0" text-anchor="middle" fill="#333" >5</text>
<circle cx="541.20" cy="318.00" r="3.9" fill="#cdbdb2" stroke="#3a3a3a" stroke-width="0.8"/>
<text x="540.00" y="310.40" font-size="7.0" text-anchor="middle" fill="#333" >6</text>
<circle cx="594.90" cy="285.10" r="3.9" fill="#cdbdb2" stroke="#3a3a3a" stroke-width="0.8"/>
<text x="600.90" y="280.00" font-size="7.0" text-anchor="middle" fill="#333" >8</text>
<circle cx="638.60" cy="324.00" r="3.9" fill="#cdbdb2" stroke="#3a3a3a" stroke-width="0.8"/>
<text x="646.00" y="319.00" font-size="7.0" text-anchor="middle" fill="#333" >9</text>
<text x="0" y="0" font-size="11" fill="#262626" text-anchor="middle" transform="translate(545.2 336.7) rotate(-43)">strong binding</text>
<text x="0" y="0" font-size="11" fill="#262626" text-anchor="middle" transform="translate(635.3 339.6) rotate(37.5)">weak binding</text>
<text x="0" y="0" font-size="10.6" fill="#262626" textLength="86.8" lengthAdjust="spacingAndGlyphs" transform="translate(380.8 413.3) rotate(-90)">log (i<tspan font-size="7.6" dy="1.8">0</tspan><tspan dy="-1.8"> / mA cm</tspan><tspan font-size="7.6" dy="-4.2">−2</tspan><tspan dy="4.2">)</tspan></text>
<text x="490.4" y="496.6" font-size="10.1" fill="#262626" textLength="99.3" lengthAdjust="spacingAndGlyphs">ΔG<tspan font-size="7.4" font-style="italic" dy="1.6">H</tspan><tspan dy="-1.6"> @ pH = 14 / eV</tspan></text>
</svg></body></html>
